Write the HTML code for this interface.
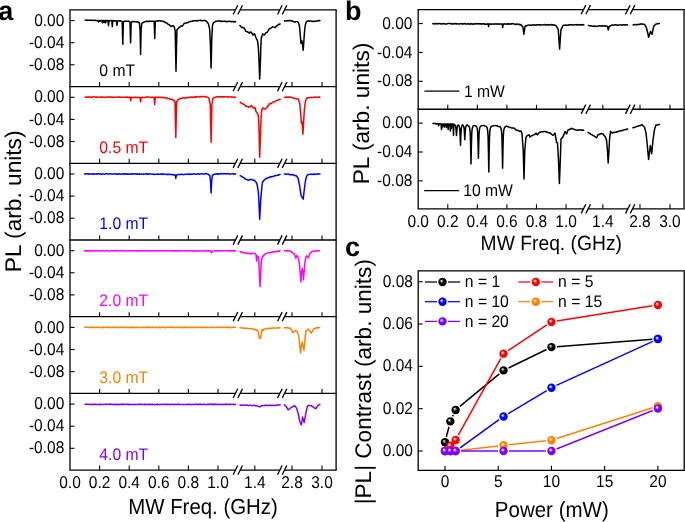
<!DOCTYPE html>
<html><head><meta charset="utf-8"><title>figure</title>
<style>html,body{margin:0;padding:0;background:#fff;}body{width:685px;height:522px;overflow:hidden;}
svg{display:block;will-change:transform;font-family:"Liberation Sans", sans-serif;}</style></head>
<body><svg width="685" height="522" viewBox="0 0 685 522" font-family='"Liberation Sans", sans-serif' text-rendering="geometricPrecision"><defs><radialGradient id="gk" cx="0.5" cy="0.5" r="0.55" fx="0.36" fy="0.34"><stop offset="0" stop-color="#ffffff"/><stop offset="0.12" stop-color="#bdbdbd"/><stop offset="0.45" stop-color="#000000"/><stop offset="1" stop-color="#000000"/></radialGradient><radialGradient id="gr" cx="0.5" cy="0.5" r="0.55" fx="0.36" fy="0.34"><stop offset="0" stop-color="#ffffff"/><stop offset="0.12" stop-color="#ffd0d0"/><stop offset="0.45" stop-color="#ff0000"/><stop offset="1" stop-color="#ff0000"/></radialGradient><radialGradient id="gb" cx="0.5" cy="0.5" r="0.55" fx="0.36" fy="0.34"><stop offset="0" stop-color="#ffffff"/><stop offset="0.12" stop-color="#d0d0ff"/><stop offset="0.45" stop-color="#0000ff"/><stop offset="1" stop-color="#0000ff"/></radialGradient><radialGradient id="go" cx="0.5" cy="0.5" r="0.55" fx="0.36" fy="0.34"><stop offset="0" stop-color="#ffffff"/><stop offset="0.12" stop-color="#ffe0c0"/><stop offset="0.45" stop-color="#ff8000"/><stop offset="1" stop-color="#ff8000"/></radialGradient><radialGradient id="gp" cx="0.5" cy="0.5" r="0.55" fx="0.36" fy="0.34"><stop offset="0" stop-color="#ffffff"/><stop offset="0.12" stop-color="#e4ccff"/><stop offset="0.45" stop-color="#8000ff"/><stop offset="1" stop-color="#8000ff"/></radialGradient></defs><rect width="100%" height="100%" fill="#fff"/><line x1="70" y1="9.9" x2="70" y2="470.1" stroke="#000" stroke-width="1.3" stroke-linecap="butt"/>
<line x1="336.1" y1="9.9" x2="336.1" y2="470.1" stroke="#000" stroke-width="1.3" stroke-linecap="butt"/>
<line x1="69.35" y1="9.9" x2="336.75" y2="9.9" stroke="#000" stroke-width="1.3" stroke-linecap="butt"/>
<line x1="69.35" y1="86.6" x2="336.75" y2="86.6" stroke="#000" stroke-width="1.3" stroke-linecap="butt"/>
<line x1="69.35" y1="163.3" x2="336.75" y2="163.3" stroke="#000" stroke-width="1.3" stroke-linecap="butt"/>
<line x1="69.35" y1="240" x2="336.75" y2="240" stroke="#000" stroke-width="1.3" stroke-linecap="butt"/>
<line x1="69.35" y1="316.7" x2="336.75" y2="316.7" stroke="#000" stroke-width="1.3" stroke-linecap="butt"/>
<line x1="69.35" y1="393.4" x2="336.75" y2="393.4" stroke="#000" stroke-width="1.3" stroke-linecap="butt"/>
<line x1="69.35" y1="470.1" x2="336.75" y2="470.1" stroke="#000" stroke-width="1.3" stroke-linecap="butt"/>
<line x1="70" y1="20.6" x2="74.5" y2="20.6" stroke="#000" stroke-width="1.1" stroke-linecap="butt"/>
<text x="64.3" y="25.7" font-size="15.5" text-anchor="end" fill="#000" font-weight="normal" transform="matrix(1 0 0 1.1 0 -2.57)">0.00</text>
<line x1="70" y1="42.7" x2="74.5" y2="42.7" stroke="#000" stroke-width="1.1" stroke-linecap="butt"/>
<text x="64.3" y="47.8" font-size="15.5" text-anchor="end" fill="#000" font-weight="normal" transform="matrix(1 0 0 1.1 0 -4.78)">-0.04</text>
<line x1="70" y1="64.8" x2="74.5" y2="64.8" stroke="#000" stroke-width="1.1" stroke-linecap="butt"/>
<text x="64.3" y="69.9" font-size="15.5" text-anchor="end" fill="#000" font-weight="normal" transform="matrix(1 0 0 1.1 0 -6.99)">-0.08</text>
<line x1="99.6" y1="86.6" x2="99.6" y2="82.1" stroke="#000" stroke-width="1.1" stroke-linecap="butt"/>
<line x1="129.2" y1="86.6" x2="129.2" y2="82.1" stroke="#000" stroke-width="1.1" stroke-linecap="butt"/>
<line x1="158.8" y1="86.6" x2="158.8" y2="82.1" stroke="#000" stroke-width="1.1" stroke-linecap="butt"/>
<line x1="188.4" y1="86.6" x2="188.4" y2="82.1" stroke="#000" stroke-width="1.1" stroke-linecap="butt"/>
<line x1="218" y1="86.6" x2="218" y2="82.1" stroke="#000" stroke-width="1.1" stroke-linecap="butt"/>
<line x1="254.8" y1="86.6" x2="254.8" y2="82.1" stroke="#000" stroke-width="1.1" stroke-linecap="butt"/>
<line x1="292" y1="86.6" x2="292" y2="82.1" stroke="#000" stroke-width="1.1" stroke-linecap="butt"/>
<line x1="322" y1="86.6" x2="322" y2="82.1" stroke="#000" stroke-width="1.1" stroke-linecap="butt"/>
<line x1="70" y1="97.3" x2="74.5" y2="97.3" stroke="#000" stroke-width="1.1" stroke-linecap="butt"/>
<text x="64.3" y="102.4" font-size="15.5" text-anchor="end" fill="#000" font-weight="normal" transform="matrix(1 0 0 1.1 0 -10.24)">0.00</text>
<line x1="70" y1="119.4" x2="74.5" y2="119.4" stroke="#000" stroke-width="1.1" stroke-linecap="butt"/>
<text x="64.3" y="124.5" font-size="15.5" text-anchor="end" fill="#000" font-weight="normal" transform="matrix(1 0 0 1.1 0 -12.45)">-0.04</text>
<line x1="70" y1="141.5" x2="74.5" y2="141.5" stroke="#000" stroke-width="1.1" stroke-linecap="butt"/>
<text x="64.3" y="146.6" font-size="15.5" text-anchor="end" fill="#000" font-weight="normal" transform="matrix(1 0 0 1.1 0 -14.66)">-0.08</text>
<line x1="99.6" y1="163.3" x2="99.6" y2="158.8" stroke="#000" stroke-width="1.1" stroke-linecap="butt"/>
<line x1="129.2" y1="163.3" x2="129.2" y2="158.8" stroke="#000" stroke-width="1.1" stroke-linecap="butt"/>
<line x1="158.8" y1="163.3" x2="158.8" y2="158.8" stroke="#000" stroke-width="1.1" stroke-linecap="butt"/>
<line x1="188.4" y1="163.3" x2="188.4" y2="158.8" stroke="#000" stroke-width="1.1" stroke-linecap="butt"/>
<line x1="218" y1="163.3" x2="218" y2="158.8" stroke="#000" stroke-width="1.1" stroke-linecap="butt"/>
<line x1="254.8" y1="163.3" x2="254.8" y2="158.8" stroke="#000" stroke-width="1.1" stroke-linecap="butt"/>
<line x1="292" y1="163.3" x2="292" y2="158.8" stroke="#000" stroke-width="1.1" stroke-linecap="butt"/>
<line x1="322" y1="163.3" x2="322" y2="158.8" stroke="#000" stroke-width="1.1" stroke-linecap="butt"/>
<line x1="70" y1="174" x2="74.5" y2="174" stroke="#000" stroke-width="1.1" stroke-linecap="butt"/>
<text x="64.3" y="179.1" font-size="15.5" text-anchor="end" fill="#000" font-weight="normal" transform="matrix(1 0 0 1.1 0 -17.91)">0.00</text>
<line x1="70" y1="196.1" x2="74.5" y2="196.1" stroke="#000" stroke-width="1.1" stroke-linecap="butt"/>
<text x="64.3" y="201.2" font-size="15.5" text-anchor="end" fill="#000" font-weight="normal" transform="matrix(1 0 0 1.1 0 -20.12)">-0.04</text>
<line x1="70" y1="218.2" x2="74.5" y2="218.2" stroke="#000" stroke-width="1.1" stroke-linecap="butt"/>
<text x="64.3" y="223.3" font-size="15.5" text-anchor="end" fill="#000" font-weight="normal" transform="matrix(1 0 0 1.1 0 -22.33)">-0.08</text>
<line x1="99.6" y1="240" x2="99.6" y2="235.5" stroke="#000" stroke-width="1.1" stroke-linecap="butt"/>
<line x1="129.2" y1="240" x2="129.2" y2="235.5" stroke="#000" stroke-width="1.1" stroke-linecap="butt"/>
<line x1="158.8" y1="240" x2="158.8" y2="235.5" stroke="#000" stroke-width="1.1" stroke-linecap="butt"/>
<line x1="188.4" y1="240" x2="188.4" y2="235.5" stroke="#000" stroke-width="1.1" stroke-linecap="butt"/>
<line x1="218" y1="240" x2="218" y2="235.5" stroke="#000" stroke-width="1.1" stroke-linecap="butt"/>
<line x1="254.8" y1="240" x2="254.8" y2="235.5" stroke="#000" stroke-width="1.1" stroke-linecap="butt"/>
<line x1="292" y1="240" x2="292" y2="235.5" stroke="#000" stroke-width="1.1" stroke-linecap="butt"/>
<line x1="322" y1="240" x2="322" y2="235.5" stroke="#000" stroke-width="1.1" stroke-linecap="butt"/>
<line x1="70" y1="250.7" x2="74.5" y2="250.7" stroke="#000" stroke-width="1.1" stroke-linecap="butt"/>
<text x="64.3" y="255.8" font-size="15.5" text-anchor="end" fill="#000" font-weight="normal" transform="matrix(1 0 0 1.1 0 -25.58)">0.00</text>
<line x1="70" y1="272.8" x2="74.5" y2="272.8" stroke="#000" stroke-width="1.1" stroke-linecap="butt"/>
<text x="64.3" y="277.9" font-size="15.5" text-anchor="end" fill="#000" font-weight="normal" transform="matrix(1 0 0 1.1 0 -27.79)">-0.04</text>
<line x1="70" y1="294.9" x2="74.5" y2="294.9" stroke="#000" stroke-width="1.1" stroke-linecap="butt"/>
<text x="64.3" y="300" font-size="15.5" text-anchor="end" fill="#000" font-weight="normal" transform="matrix(1 0 0 1.1 0 -30)">-0.08</text>
<line x1="99.6" y1="316.7" x2="99.6" y2="312.2" stroke="#000" stroke-width="1.1" stroke-linecap="butt"/>
<line x1="129.2" y1="316.7" x2="129.2" y2="312.2" stroke="#000" stroke-width="1.1" stroke-linecap="butt"/>
<line x1="158.8" y1="316.7" x2="158.8" y2="312.2" stroke="#000" stroke-width="1.1" stroke-linecap="butt"/>
<line x1="188.4" y1="316.7" x2="188.4" y2="312.2" stroke="#000" stroke-width="1.1" stroke-linecap="butt"/>
<line x1="218" y1="316.7" x2="218" y2="312.2" stroke="#000" stroke-width="1.1" stroke-linecap="butt"/>
<line x1="254.8" y1="316.7" x2="254.8" y2="312.2" stroke="#000" stroke-width="1.1" stroke-linecap="butt"/>
<line x1="292" y1="316.7" x2="292" y2="312.2" stroke="#000" stroke-width="1.1" stroke-linecap="butt"/>
<line x1="322" y1="316.7" x2="322" y2="312.2" stroke="#000" stroke-width="1.1" stroke-linecap="butt"/>
<line x1="70" y1="327.4" x2="74.5" y2="327.4" stroke="#000" stroke-width="1.1" stroke-linecap="butt"/>
<text x="64.3" y="332.5" font-size="15.5" text-anchor="end" fill="#000" font-weight="normal" transform="matrix(1 0 0 1.1 0 -33.25)">0.00</text>
<line x1="70" y1="349.5" x2="74.5" y2="349.5" stroke="#000" stroke-width="1.1" stroke-linecap="butt"/>
<text x="64.3" y="354.6" font-size="15.5" text-anchor="end" fill="#000" font-weight="normal" transform="matrix(1 0 0 1.1 0 -35.46)">-0.04</text>
<line x1="70" y1="371.6" x2="74.5" y2="371.6" stroke="#000" stroke-width="1.1" stroke-linecap="butt"/>
<text x="64.3" y="376.7" font-size="15.5" text-anchor="end" fill="#000" font-weight="normal" transform="matrix(1 0 0 1.1 0 -37.67)">-0.08</text>
<line x1="99.6" y1="393.4" x2="99.6" y2="388.9" stroke="#000" stroke-width="1.1" stroke-linecap="butt"/>
<line x1="129.2" y1="393.4" x2="129.2" y2="388.9" stroke="#000" stroke-width="1.1" stroke-linecap="butt"/>
<line x1="158.8" y1="393.4" x2="158.8" y2="388.9" stroke="#000" stroke-width="1.1" stroke-linecap="butt"/>
<line x1="188.4" y1="393.4" x2="188.4" y2="388.9" stroke="#000" stroke-width="1.1" stroke-linecap="butt"/>
<line x1="218" y1="393.4" x2="218" y2="388.9" stroke="#000" stroke-width="1.1" stroke-linecap="butt"/>
<line x1="254.8" y1="393.4" x2="254.8" y2="388.9" stroke="#000" stroke-width="1.1" stroke-linecap="butt"/>
<line x1="292" y1="393.4" x2="292" y2="388.9" stroke="#000" stroke-width="1.1" stroke-linecap="butt"/>
<line x1="322" y1="393.4" x2="322" y2="388.9" stroke="#000" stroke-width="1.1" stroke-linecap="butt"/>
<line x1="70" y1="404.1" x2="74.5" y2="404.1" stroke="#000" stroke-width="1.1" stroke-linecap="butt"/>
<text x="64.3" y="409.2" font-size="15.5" text-anchor="end" fill="#000" font-weight="normal" transform="matrix(1 0 0 1.1 0 -40.92)">0.00</text>
<line x1="70" y1="426.2" x2="74.5" y2="426.2" stroke="#000" stroke-width="1.1" stroke-linecap="butt"/>
<text x="64.3" y="431.3" font-size="15.5" text-anchor="end" fill="#000" font-weight="normal" transform="matrix(1 0 0 1.1 0 -43.13)">-0.04</text>
<line x1="70" y1="448.3" x2="74.5" y2="448.3" stroke="#000" stroke-width="1.1" stroke-linecap="butt"/>
<text x="64.3" y="453.4" font-size="15.5" text-anchor="end" fill="#000" font-weight="normal" transform="matrix(1 0 0 1.1 0 -45.34)">-0.08</text>
<line x1="99.6" y1="470.1" x2="99.6" y2="465.6" stroke="#000" stroke-width="1.1" stroke-linecap="butt"/>
<line x1="129.2" y1="470.1" x2="129.2" y2="465.6" stroke="#000" stroke-width="1.1" stroke-linecap="butt"/>
<line x1="158.8" y1="470.1" x2="158.8" y2="465.6" stroke="#000" stroke-width="1.1" stroke-linecap="butt"/>
<line x1="188.4" y1="470.1" x2="188.4" y2="465.6" stroke="#000" stroke-width="1.1" stroke-linecap="butt"/>
<line x1="218" y1="470.1" x2="218" y2="465.6" stroke="#000" stroke-width="1.1" stroke-linecap="butt"/>
<line x1="254.8" y1="470.1" x2="254.8" y2="465.6" stroke="#000" stroke-width="1.1" stroke-linecap="butt"/>
<line x1="292" y1="470.1" x2="292" y2="465.6" stroke="#000" stroke-width="1.1" stroke-linecap="butt"/>
<line x1="322" y1="470.1" x2="322" y2="465.6" stroke="#000" stroke-width="1.1" stroke-linecap="butt"/>
<polygon points="234.88,11.05 236.03,8.75 240.72,8.75 239.58,11.05" fill="#fff"/>
<line x1="233.15" y1="14.5" x2="237.75" y2="5.3" stroke="#000" stroke-width="1.3" stroke-linecap="butt"/>
<line x1="237.85" y1="14.5" x2="242.45" y2="5.3" stroke="#000" stroke-width="1.3" stroke-linecap="butt"/>
<polygon points="279.27,11.05 280.42,8.75 285.12,8.75 283.98,11.05" fill="#fff"/>
<line x1="277.55" y1="14.5" x2="282.15" y2="5.3" stroke="#000" stroke-width="1.3" stroke-linecap="butt"/>
<line x1="282.25" y1="14.5" x2="286.85" y2="5.3" stroke="#000" stroke-width="1.3" stroke-linecap="butt"/>
<polygon points="234.88,87.75 236.03,85.45 240.72,85.45 239.58,87.75" fill="#fff"/>
<line x1="233.15" y1="91.2" x2="237.75" y2="82" stroke="#000" stroke-width="1.3" stroke-linecap="butt"/>
<line x1="237.85" y1="91.2" x2="242.45" y2="82" stroke="#000" stroke-width="1.3" stroke-linecap="butt"/>
<polygon points="279.27,87.75 280.42,85.45 285.12,85.45 283.98,87.75" fill="#fff"/>
<line x1="277.55" y1="91.2" x2="282.15" y2="82" stroke="#000" stroke-width="1.3" stroke-linecap="butt"/>
<line x1="282.25" y1="91.2" x2="286.85" y2="82" stroke="#000" stroke-width="1.3" stroke-linecap="butt"/>
<polygon points="234.88,164.45 236.03,162.15 240.72,162.15 239.58,164.45" fill="#fff"/>
<line x1="233.15" y1="167.9" x2="237.75" y2="158.7" stroke="#000" stroke-width="1.3" stroke-linecap="butt"/>
<line x1="237.85" y1="167.9" x2="242.45" y2="158.7" stroke="#000" stroke-width="1.3" stroke-linecap="butt"/>
<polygon points="279.27,164.45 280.42,162.15 285.12,162.15 283.98,164.45" fill="#fff"/>
<line x1="277.55" y1="167.9" x2="282.15" y2="158.7" stroke="#000" stroke-width="1.3" stroke-linecap="butt"/>
<line x1="282.25" y1="167.9" x2="286.85" y2="158.7" stroke="#000" stroke-width="1.3" stroke-linecap="butt"/>
<polygon points="234.88,241.15 236.03,238.85 240.72,238.85 239.58,241.15" fill="#fff"/>
<line x1="233.15" y1="244.6" x2="237.75" y2="235.4" stroke="#000" stroke-width="1.3" stroke-linecap="butt"/>
<line x1="237.85" y1="244.6" x2="242.45" y2="235.4" stroke="#000" stroke-width="1.3" stroke-linecap="butt"/>
<polygon points="279.27,241.15 280.42,238.85 285.12,238.85 283.98,241.15" fill="#fff"/>
<line x1="277.55" y1="244.6" x2="282.15" y2="235.4" stroke="#000" stroke-width="1.3" stroke-linecap="butt"/>
<line x1="282.25" y1="244.6" x2="286.85" y2="235.4" stroke="#000" stroke-width="1.3" stroke-linecap="butt"/>
<polygon points="234.88,317.85 236.03,315.55 240.72,315.55 239.58,317.85" fill="#fff"/>
<line x1="233.15" y1="321.3" x2="237.75" y2="312.1" stroke="#000" stroke-width="1.3" stroke-linecap="butt"/>
<line x1="237.85" y1="321.3" x2="242.45" y2="312.1" stroke="#000" stroke-width="1.3" stroke-linecap="butt"/>
<polygon points="279.27,317.85 280.42,315.55 285.12,315.55 283.98,317.85" fill="#fff"/>
<line x1="277.55" y1="321.3" x2="282.15" y2="312.1" stroke="#000" stroke-width="1.3" stroke-linecap="butt"/>
<line x1="282.25" y1="321.3" x2="286.85" y2="312.1" stroke="#000" stroke-width="1.3" stroke-linecap="butt"/>
<polygon points="234.88,394.55 236.03,392.25 240.72,392.25 239.58,394.55" fill="#fff"/>
<line x1="233.15" y1="398" x2="237.75" y2="388.8" stroke="#000" stroke-width="1.3" stroke-linecap="butt"/>
<line x1="237.85" y1="398" x2="242.45" y2="388.8" stroke="#000" stroke-width="1.3" stroke-linecap="butt"/>
<polygon points="279.27,394.55 280.42,392.25 285.12,392.25 283.98,394.55" fill="#fff"/>
<line x1="277.55" y1="398" x2="282.15" y2="388.8" stroke="#000" stroke-width="1.3" stroke-linecap="butt"/>
<line x1="282.25" y1="398" x2="286.85" y2="388.8" stroke="#000" stroke-width="1.3" stroke-linecap="butt"/>
<polygon points="234.88,471.25 236.03,468.95 240.72,468.95 239.58,471.25" fill="#fff"/>
<line x1="233.15" y1="474.7" x2="237.75" y2="465.5" stroke="#000" stroke-width="1.3" stroke-linecap="butt"/>
<line x1="237.85" y1="474.7" x2="242.45" y2="465.5" stroke="#000" stroke-width="1.3" stroke-linecap="butt"/>
<polygon points="279.27,471.25 280.42,468.95 285.12,468.95 283.98,471.25" fill="#fff"/>
<line x1="277.55" y1="474.7" x2="282.15" y2="465.5" stroke="#000" stroke-width="1.3" stroke-linecap="butt"/>
<line x1="282.25" y1="474.7" x2="286.85" y2="465.5" stroke="#000" stroke-width="1.3" stroke-linecap="butt"/>
<text x="70" y="487.6" font-size="15.5" text-anchor="middle" fill="#000" font-weight="normal" transform="matrix(1 0 0 1.1 0 -48.76)">0.0</text>
<text x="99.6" y="487.6" font-size="15.5" text-anchor="middle" fill="#000" font-weight="normal" transform="matrix(1 0 0 1.1 0 -48.76)">0.2</text>
<text x="129.2" y="487.6" font-size="15.5" text-anchor="middle" fill="#000" font-weight="normal" transform="matrix(1 0 0 1.1 0 -48.76)">0.4</text>
<text x="158.8" y="487.6" font-size="15.5" text-anchor="middle" fill="#000" font-weight="normal" transform="matrix(1 0 0 1.1 0 -48.76)">0.6</text>
<text x="188.4" y="487.6" font-size="15.5" text-anchor="middle" fill="#000" font-weight="normal" transform="matrix(1 0 0 1.1 0 -48.76)">0.8</text>
<text x="218" y="487.6" font-size="15.5" text-anchor="middle" fill="#000" font-weight="normal" transform="matrix(1 0 0 1.1 0 -48.76)">1.0</text>
<text x="254.8" y="487.6" font-size="15.5" text-anchor="middle" fill="#000" font-weight="normal" transform="matrix(1 0 0 1.1 0 -48.76)">1.4</text>
<text x="292" y="487.6" font-size="15.5" text-anchor="middle" fill="#000" font-weight="normal" transform="matrix(1 0 0 1.1 0 -48.76)">2.8</text>
<text x="322" y="487.6" font-size="15.5" text-anchor="middle" fill="#000" font-weight="normal" transform="matrix(1 0 0 1.1 0 -48.76)">3.0</text>
<line x1="418.2" y1="9.7" x2="418.2" y2="208.8" stroke="#000" stroke-width="1.3" stroke-linecap="butt"/>
<line x1="684.03" y1="9.7" x2="684.03" y2="208.8" stroke="#000" stroke-width="1.3" stroke-linecap="butt"/>
<line x1="417.55" y1="9.7" x2="684.68" y2="9.7" stroke="#000" stroke-width="1.3" stroke-linecap="butt"/>
<line x1="417.55" y1="109.25" x2="684.68" y2="109.25" stroke="#000" stroke-width="1.3" stroke-linecap="butt"/>
<line x1="417.55" y1="208.8" x2="684.68" y2="208.8" stroke="#000" stroke-width="1.3" stroke-linecap="butt"/>
<line x1="418.2" y1="23.55" x2="422.7" y2="23.55" stroke="#000" stroke-width="1.1" stroke-linecap="butt"/>
<text x="412.4" y="28.65" font-size="15.5" text-anchor="end" fill="#000" font-weight="normal" transform="matrix(1 0 0 1.1 0 -2.87)">0.00</text>
<line x1="418.2" y1="52.45" x2="422.7" y2="52.45" stroke="#000" stroke-width="1.1" stroke-linecap="butt"/>
<text x="412.4" y="57.55" font-size="15.5" text-anchor="end" fill="#000" font-weight="normal" transform="matrix(1 0 0 1.1 0 -5.76)">-0.04</text>
<line x1="418.2" y1="81.3" x2="422.7" y2="81.3" stroke="#000" stroke-width="1.1" stroke-linecap="butt"/>
<text x="412.4" y="86.4" font-size="15.5" text-anchor="end" fill="#000" font-weight="normal" transform="matrix(1 0 0 1.1 0 -8.64)">-0.08</text>
<line x1="447.77" y1="109.25" x2="447.77" y2="104.75" stroke="#000" stroke-width="1.1" stroke-linecap="butt"/>
<line x1="477.34" y1="109.25" x2="477.34" y2="104.75" stroke="#000" stroke-width="1.1" stroke-linecap="butt"/>
<line x1="506.91" y1="109.25" x2="506.91" y2="104.75" stroke="#000" stroke-width="1.1" stroke-linecap="butt"/>
<line x1="536.48" y1="109.25" x2="536.48" y2="104.75" stroke="#000" stroke-width="1.1" stroke-linecap="butt"/>
<line x1="566.05" y1="109.25" x2="566.05" y2="104.75" stroke="#000" stroke-width="1.1" stroke-linecap="butt"/>
<line x1="602.82" y1="109.25" x2="602.82" y2="104.75" stroke="#000" stroke-width="1.1" stroke-linecap="butt"/>
<line x1="639.98" y1="109.25" x2="639.98" y2="104.75" stroke="#000" stroke-width="1.1" stroke-linecap="butt"/>
<line x1="669.95" y1="109.25" x2="669.95" y2="104.75" stroke="#000" stroke-width="1.1" stroke-linecap="butt"/>
<line x1="418.2" y1="123.1" x2="422.7" y2="123.1" stroke="#000" stroke-width="1.1" stroke-linecap="butt"/>
<text x="412.4" y="128.2" font-size="15.5" text-anchor="end" fill="#000" font-weight="normal" transform="matrix(1 0 0 1.1 0 -12.82)">0.00</text>
<line x1="418.2" y1="152" x2="422.7" y2="152" stroke="#000" stroke-width="1.1" stroke-linecap="butt"/>
<text x="412.4" y="157.1" font-size="15.5" text-anchor="end" fill="#000" font-weight="normal" transform="matrix(1 0 0 1.1 0 -15.71)">-0.04</text>
<line x1="418.2" y1="180.85" x2="422.7" y2="180.85" stroke="#000" stroke-width="1.1" stroke-linecap="butt"/>
<text x="412.4" y="185.95" font-size="15.5" text-anchor="end" fill="#000" font-weight="normal" transform="matrix(1 0 0 1.1 0 -18.6)">-0.08</text>
<line x1="447.77" y1="208.8" x2="447.77" y2="204.3" stroke="#000" stroke-width="1.1" stroke-linecap="butt"/>
<line x1="477.34" y1="208.8" x2="477.34" y2="204.3" stroke="#000" stroke-width="1.1" stroke-linecap="butt"/>
<line x1="506.91" y1="208.8" x2="506.91" y2="204.3" stroke="#000" stroke-width="1.1" stroke-linecap="butt"/>
<line x1="536.48" y1="208.8" x2="536.48" y2="204.3" stroke="#000" stroke-width="1.1" stroke-linecap="butt"/>
<line x1="566.05" y1="208.8" x2="566.05" y2="204.3" stroke="#000" stroke-width="1.1" stroke-linecap="butt"/>
<line x1="602.82" y1="208.8" x2="602.82" y2="204.3" stroke="#000" stroke-width="1.1" stroke-linecap="butt"/>
<line x1="639.98" y1="208.8" x2="639.98" y2="204.3" stroke="#000" stroke-width="1.1" stroke-linecap="butt"/>
<line x1="669.95" y1="208.8" x2="669.95" y2="204.3" stroke="#000" stroke-width="1.1" stroke-linecap="butt"/>
<polygon points="582.91,10.85 584.06,8.55 588.76,8.55 587.61,10.85" fill="#fff"/>
<line x1="581.18" y1="14.3" x2="585.78" y2="5.1" stroke="#000" stroke-width="1.3" stroke-linecap="butt"/>
<line x1="585.88" y1="14.3" x2="590.48" y2="5.1" stroke="#000" stroke-width="1.3" stroke-linecap="butt"/>
<polygon points="627.26,10.85 628.41,8.55 633.11,8.55 631.96,10.85" fill="#fff"/>
<line x1="625.54" y1="14.3" x2="630.14" y2="5.1" stroke="#000" stroke-width="1.3" stroke-linecap="butt"/>
<line x1="630.24" y1="14.3" x2="634.84" y2="5.1" stroke="#000" stroke-width="1.3" stroke-linecap="butt"/>
<polygon points="582.91,110.4 584.06,108.1 588.76,108.1 587.61,110.4" fill="#fff"/>
<line x1="581.18" y1="113.85" x2="585.78" y2="104.65" stroke="#000" stroke-width="1.3" stroke-linecap="butt"/>
<line x1="585.88" y1="113.85" x2="590.48" y2="104.65" stroke="#000" stroke-width="1.3" stroke-linecap="butt"/>
<polygon points="627.26,110.4 628.41,108.1 633.11,108.1 631.96,110.4" fill="#fff"/>
<line x1="625.54" y1="113.85" x2="630.14" y2="104.65" stroke="#000" stroke-width="1.3" stroke-linecap="butt"/>
<line x1="630.24" y1="113.85" x2="634.84" y2="104.65" stroke="#000" stroke-width="1.3" stroke-linecap="butt"/>
<polygon points="582.91,209.95 584.06,207.65 588.76,207.65 587.61,209.95" fill="#fff"/>
<line x1="581.18" y1="213.4" x2="585.78" y2="204.2" stroke="#000" stroke-width="1.3" stroke-linecap="butt"/>
<line x1="585.88" y1="213.4" x2="590.48" y2="204.2" stroke="#000" stroke-width="1.3" stroke-linecap="butt"/>
<polygon points="627.26,209.95 628.41,207.65 633.11,207.65 631.96,209.95" fill="#fff"/>
<line x1="625.54" y1="213.4" x2="630.14" y2="204.2" stroke="#000" stroke-width="1.3" stroke-linecap="butt"/>
<line x1="630.24" y1="213.4" x2="634.84" y2="204.2" stroke="#000" stroke-width="1.3" stroke-linecap="butt"/>
<text x="418.2" y="226.6" font-size="15.5" text-anchor="middle" fill="#000" font-weight="normal" transform="matrix(1 0 0 1.1 0 -22.66)">0.0</text>
<text x="447.77" y="226.6" font-size="15.5" text-anchor="middle" fill="#000" font-weight="normal" transform="matrix(1 0 0 1.1 0 -22.66)">0.2</text>
<text x="477.34" y="226.6" font-size="15.5" text-anchor="middle" fill="#000" font-weight="normal" transform="matrix(1 0 0 1.1 0 -22.66)">0.4</text>
<text x="506.91" y="226.6" font-size="15.5" text-anchor="middle" fill="#000" font-weight="normal" transform="matrix(1 0 0 1.1 0 -22.66)">0.6</text>
<text x="536.48" y="226.6" font-size="15.5" text-anchor="middle" fill="#000" font-weight="normal" transform="matrix(1 0 0 1.1 0 -22.66)">0.8</text>
<text x="566.05" y="226.6" font-size="15.5" text-anchor="middle" fill="#000" font-weight="normal" transform="matrix(1 0 0 1.1 0 -22.66)">1.0</text>
<text x="602.82" y="226.6" font-size="15.5" text-anchor="middle" fill="#000" font-weight="normal" transform="matrix(1 0 0 1.1 0 -22.66)">1.4</text>
<text x="639.98" y="226.6" font-size="15.5" text-anchor="middle" fill="#000" font-weight="normal" transform="matrix(1 0 0 1.1 0 -22.66)">2.8</text>
<text x="669.95" y="226.6" font-size="15.5" text-anchor="middle" fill="#000" font-weight="normal" transform="matrix(1 0 0 1.1 0 -22.66)">3.0</text>
<polyline points="85.2,20.3 85.82,20.2 86.44,20.11 87.05,20.42 87.67,20.08 88.29,20.37 88.91,20.27 89.53,20.1 90.15,20.38 90.76,20.1 91.38,20.35 92,20.4 92.61,20.15 93.22,20.17 93.83,20.38 94.44,20.64 95.05,20.22 95.66,20.29 96.27,20.55 96.88,20.75 97.49,20.54 98.1,20.5 98.15,20.5 98.6,21.9 99.05,20.5 99.65,20.6 100.1,21.5 100.55,20.6 101.25,20.54 101.95,20.6 102.4,22.8 102.85,20.6 103.65,20.6 104.1,22.5 104.55,20.6 105.15,20.6 105.6,22.8 106.05,20.6 106.72,20.92 107.38,20.39 108.05,20.7 108.5,25.7 108.95,20.7 109.67,20.94 110.4,20.62 111.12,20.56 111.85,20.8 112.3,26.6 112.75,20.8 113.38,20.59 114.02,20.72 114.65,21.04 115.28,20.68 115.92,20.93 116.55,20.9 117,25.4 117.45,20.9 118.16,21 118.87,20.86 119.58,20.99 120.29,20.72 121,21 121.6,21.14 122.2,21.8 122.8,44.2 123.4,21.8 124.5,21.2 125.14,21.04 125.79,21.34 126.43,21.2 127.07,21.15 127.71,21.32 128.36,21.26 129,21.3 130,22.3 130.6,42.8 131.2,22.3 131.85,21.78 132.5,21.5 133.14,21.71 133.79,21.68 134.43,21.43 135.07,21.66 135.71,21.66 136.36,21.9 137,21.7 137.6,22.06 138.2,22.02 138.8,22.66 139.4,22.6 140.1,30 140.6,54.6 141.1,30 141.8,23.5 142.53,22.77 143.27,22.45 144,22 144.67,22.02 145.33,21.52 146,21.59 146.67,21.19 147.33,21.43 148,21.2 148.62,21.36 149.24,21.24 149.86,21.43 150.48,21.09 151.1,21.32 151.72,21.26 152.34,21.25 152.96,21.17 153.58,21.4 154.2,21.2 154.75,38.4 155.3,21.2 155.97,21.4 156.64,21.04 157.31,21.08 157.99,20.65 158.66,20.96 159.33,20.86 160,20.7 160.6,21.12 161.2,21.13 161.8,20.93 162.4,21.11 163,21.3 163.6,21.7 164.2,21.61 164.8,22.18 165.4,22.3 166,22.8 166.6,22.97 167.2,23.34 167.8,24.16 168.4,24.18 169,24.8 169.62,25.07 170.25,25.58 170.88,26.3 171.5,26.5 172.25,25.8 173,25.6 173.65,26.32 174.3,27.1 175.2,31.1 176,71.3 176.9,29.9 178,28.8 178.75,27.98 179.5,27.1 180.25,26.73 181,25.9 182,26.2 182.67,25.52 183.33,24.69 184,23.6 184.67,23.27 185.33,23.15 186,23 186.67,22.7 187.33,22.8 188,22.62 188.67,21.92 189.33,21.72 190,21.7 190.62,21.43 191.25,21.32 191.88,21.35 192.5,21.3 193.12,21 193.75,20.73 194.38,20.86 195,20.8 195.62,20.67 196.25,20.74 196.88,20.92 197.5,20.71 198.12,20.56 198.75,20.57 199.38,20.56 200,20.4 200.62,20.14 201.25,20.66 201.88,20.61 202.5,20.67 203.12,20.64 203.75,20.41 204.38,20.43 205,20.5 205.67,20.73 206.33,21.51 207,21.9 207.75,22.79 208.5,24.2 209.6,28.8 210.4,43.7 211.1,67.9 211.8,38 212.5,25.3 213.5,22.8 214.12,22.17 214.75,21.88 215.38,21.47 216,21.3 216.67,21.2 217.33,21.03 218,21 218.67,21.09 219.33,21.06 220,21.3 220.62,21.23 221.23,21.05 221.85,21.57 222.46,21.43 223.08,21.17 223.69,21.24 224.31,21.32 224.92,21.34 225.54,21.21 226.15,21.66 226.77,21.77 227.38,21.46 228,21.5 228.63,21.52 229.27,21.3 229.9,21.34 230.53,21.51 231.17,21.48 231.8,21.85 232.43,21.47 233.07,21.41 233.7,22 234.33,21.77 234.97,21.56 235.6,21.8" fill="none" stroke="#000" stroke-width="1.5" stroke-linejoin="round" stroke-linecap="round"/>
<polyline points="239.9,25.5 240.8,26.4 241.45,27.08 242.1,27.7 242.8,27.37 243.5,27.6 244.2,28 245,29.6 245.7,31.2 246.45,31.42 247.2,31.6 247.85,32.19 248.5,32.2 249.3,33.2 250.5,31.9 251.3,32.2 252.3,33.8 253,35.1 254,33.8 254.8,34.1 255.6,36.7 256.5,38.9 257.5,40.6 258.3,47 259,60 259.7,79 260.4,62 260.9,45 261.3,38 262,35.9 262.7,33.8 263.5,34.67 264.3,35.1 264.95,34.27 265.6,33.2 266.4,32.56 267.2,32.2 268.2,30.6 269.1,29 269.95,28.57 270.8,28.3 271.43,27.57 272.07,27.4 272.7,26.7 273.35,26.92 274,27.1 274.65,27.42 275.3,27.4 276.5,26.1 277.3,25.35 278.1,24.8 278.77,24.33 279.43,24.39 280.1,23.9" fill="none" stroke="#000" stroke-width="1.5" stroke-linejoin="round" stroke-linecap="round"/>
<polyline points="284.4,20.7 285.02,20.99 285.64,20.91 286.27,20.88 286.89,20.89 287.51,20.84 288.13,20.54 288.76,20.71 289.38,20.61 290,20.7 290.6,20.54 291.2,20.66 291.8,20.93 292.4,21.04 293,21.3 293.75,21.82 294.5,22.1 295.25,22.07 296,21.5 296.75,21.62 297.5,21.8 298.5,22.7 299.5,26.5 300.2,34.2 301,43.4 301.8,40.7 302.5,44.1 303.2,50.2 303.8,41.8 304.5,31.9 305.3,25 306.5,21.5 307.25,21.36 308,20.7 308.67,21.09 309.33,21.17 310,21 310.6,21.02 311.2,21.03 311.8,21.14 312.4,21.22 313,21.5 313.6,21.22 314.2,21.37 314.8,21.44 315.4,21.3 316,21 316.67,20.9 317.33,20.93 318,20.93 318.67,20.42 319.33,20.68 320,20.5" fill="none" stroke="#000" stroke-width="1.5" stroke-linejoin="round" stroke-linecap="round"/>
<polyline points="85.1,97 85.72,97.25 86.34,97.18 86.96,97.16 87.58,97 88.2,96.83 88.82,97.2 89.45,96.93 90.07,97.21 90.69,97.32 91.31,96.98 91.93,96.99 92.55,97.32 93.17,97.19 93.79,96.86 94.41,96.84 95.03,96.86 95.65,97.31 96.28,97.26 96.9,96.87 97.52,97.28 98.14,97.38 98.76,97.19 99.38,97.01 100,97.1 100.61,97.13 101.21,96.88 101.82,96.82 102.42,97.39 103.03,97.2 103.64,97.13 104.24,97.38 104.85,97.08 105.45,97.35 106.06,97.33 106.67,96.96 107.27,96.99 107.88,97.02 108.48,96.99 109.09,97.2 109.7,97 110.3,97.1 110.91,96.93 111.52,97.4 112.12,97.07 112.73,97.14 113.33,97.22 113.94,97.41 114.55,97.13 115.15,97.43 115.76,97.18 116.36,97.2 116.97,97.2 117.58,96.9 118.18,97.15 118.79,97 119.39,96.9 120,97.2 120.64,97.39 121.28,97.02 121.91,97.2 122.55,97.36 123.19,97.27 123.82,97.13 124.46,97.25 125.1,97.28 125.74,97.43 126.38,97.03 127.01,97.3 127.65,97.12 128.29,97.15 128.92,97.45 129.56,97.3 130.2,97.3 130.7,100.7 131.2,97.3 131.84,97.34 132.47,97.47 133.11,97.57 133.74,97.29 134.38,97.4 135.01,97.35 135.65,97.36 136.29,97.47 136.92,97.34 137.56,97.39 138.19,97.37 138.83,97.65 139.46,97.51 140.1,97.4 140.6,101.8 141.1,97.4 141.74,97.61 142.37,97.64 143.01,97.21 143.64,97.38 144.28,97.59 144.91,97.52 145.55,97.08 146.19,97.06 146.82,97.24 147.46,97 148.09,97.09 148.73,96.97 149.36,97.32 150,97.2 150.68,97.39 151.37,97.47 152.05,97.04 152.73,97.4 153.42,97.38 154.1,97.3 154.7,104.4 155.3,97.3 155.97,97.07 156.64,97.5 157.31,97.54 157.99,97.07 158.66,97.5 159.33,97.15 160,97.2 160.62,97.27 161.25,97.64 161.88,97.62 162.5,97.3 163.12,97.53 163.75,97.66 164.38,97.63 165,97.8 165.62,97.77 166.25,97.99 166.88,98.38 167.5,98.11 168.12,98.58 168.75,98.66 169.38,98.56 170,99 170.63,99.08 171.27,99.44 171.9,99.56 172.53,99.47 173.17,100.21 173.8,100.1 175,102 175.8,137.6 176.6,102 177.3,100.92 178,99.5 178.67,99.57 179.33,98.83 180,98.71 180.67,98.36 181.33,98.58 182,98.2 182.6,97.99 183.2,97.84 183.8,97.94 184.4,98.17 185,98.04 185.6,97.64 186.2,97.5 186.8,97.89 187.4,97.61 188,97.5 188.64,97.57 189.27,97.16 189.91,97.1 190.55,97.43 191.18,97.23 191.82,96.97 192.45,97.44 193.09,97.22 193.73,97.27 194.36,96.8 195,97 195.62,97.19 196.25,96.69 196.88,97.14 197.5,96.87 198.12,96.78 198.75,96.88 199.38,97.08 200,96.66 200.62,96.55 201.25,96.77 201.88,96.57 202.5,96.47 203.12,96.47 203.75,96.38 204.38,96.45 205,96.6 205.62,96.64 206.25,96.78 206.88,97.21 207.5,97.2 208.25,97.72 209,98.5 209.65,101.75 210.3,105 211.1,142.3 211.9,105 212.8,99 213.5,98 214.12,97.75 214.75,97.31 215.38,97.16 216,97 216.6,96.69 217.2,96.81 217.8,96.65 218.4,97.06 219,96.93 219.6,96.69 220.2,96.84 220.8,97.1 221.4,96.58 222,96.99 222.6,96.74 223.2,96.76 223.8,96.94 224.4,96.66 225,96.7 225.62,96.75 226.25,96.89 226.87,97.11 227.49,96.77 228.12,97.11 228.74,97.07 229.36,97.07 229.99,96.97 230.61,96.98 231.24,96.84 231.86,96.93 232.48,96.94 233.11,97.38 233.73,97.13 234.35,97.12 234.98,97.11 235.6,97.4" fill="none" stroke="#ff0000" stroke-width="1.5" stroke-linejoin="round" stroke-linecap="round"/>
<polyline points="240.2,102.1 241.2,103.1 242,103.6 242.8,103.7 243.45,104.22 244.1,104.3 244.75,105.25 245.4,106 246.2,106.02 247,106.3 247.8,106.6 248.6,107.2 249.25,106.93 249.9,106.9 250.55,106.23 251.2,105.6 252.1,106.3 252.75,107.04 253.4,108.2 254.05,107.87 254.7,107.6 255.3,108.5 256,111.7 256.65,112.21 257.3,113 258.2,115.3 258.7,122 259.2,135 259.7,157.2 260.3,140 260.8,125 261.2,116 261.8,110.1 262.7,107.9 263.35,108.48 264,108.5 265,109.2 265.65,108.83 266.3,107.9 267.5,106.9 268.15,105.63 268.8,104.3 269.45,103.85 270.1,103.7 270.75,103.83 271.4,103.4 272.2,102.64 273,102.1 273.8,102.01 274.6,102.1 275.25,101.15 275.9,100.8 276.7,100.43 277.5,100.2 278.13,99.95 278.77,99.73 279.4,99.5 280.1,99.3" fill="none" stroke="#ff0000" stroke-width="1.5" stroke-linejoin="round" stroke-linecap="round"/>
<polyline points="284.4,97.4 285.02,97.21 285.64,97.38 286.27,97.07 286.89,97.21 287.51,97.1 288.13,97.27 288.76,97.05 289.38,97.02 290,97.3 290.67,97.3 291.33,97.37 292,97.7 292.67,97.78 293.33,98.03 294,98 294.7,98.27 295.4,98.48 296.1,98.75 296.8,98.7 297.65,99.03 298.5,99.5 299.15,101.75 299.8,104 300.8,115 301.5,123.5 302.2,122 302.9,134.3 303.6,122 304.5,108 305.5,101 306.2,99.4 306.9,98 307.52,98.19 308.14,97.59 308.76,97.83 309.38,97.69 310,97.5 310.62,97.19 311.25,97.63 311.88,97.62 312.5,97.43 313.12,97.45 313.75,97.46 314.38,97.02 315,97.2 315.62,97.19 316.25,97.15 316.88,97.33 317.5,97.28 318.12,97.27 318.75,97.1 319.38,97.26 320,97" fill="none" stroke="#ff0000" stroke-width="1.5" stroke-linejoin="round" stroke-linecap="round"/>
<polyline points="84.5,174 85.1,174.11 85.7,174.12 86.31,173.84 86.91,173.72 87.51,173.78 88.11,173.92 88.71,173.76 89.31,174.2 89.92,174.04 90.52,174.08 91.12,174.08 91.72,174.11 92.32,173.99 92.92,173.7 93.53,174.18 94.13,174.15 94.73,174 95.33,174.02 95.93,174.1 96.53,173.74 97.14,174.14 97.74,173.85 98.34,173.74 98.94,173.86 99.54,174.14 100.14,173.82 100.75,174.14 101.35,174.29 101.95,174 102.55,173.93 103.15,173.99 103.75,174.11 104.36,174.16 104.96,174.07 105.56,174.09 106.16,173.75 106.76,173.79 107.36,173.85 107.97,174.15 108.57,173.88 109.17,174.04 109.77,173.71 110.37,173.74 110.97,173.86 111.58,174.1 112.18,174.12 112.78,174.11 113.38,173.87 113.98,174.01 114.58,173.98 115.19,173.98 115.79,173.77 116.39,174.24 116.99,173.82 117.59,174.29 118.19,174.26 118.8,173.71 119.4,173.98 120,174 120.6,174.19 121.2,174.28 121.8,173.98 122.4,173.87 123,173.84 123.6,174.28 124.2,173.84 124.8,174.06 125.4,173.8 126,174.03 126.6,174.29 127.2,173.8 127.8,174.22 128.4,174.03 129,174.26 129.6,174.15 130.2,173.87 130.8,174.27 131.4,174.03 132,173.75 132.6,173.74 133.2,174.04 133.8,174.02 134.4,173.93 135,173.83 135.6,173.96 136.2,173.94 136.8,174.26 137.4,173.76 138,174.21 138.6,174.27 139.2,173.84 139.8,174.32 140.4,174.2 141,174.31 141.6,173.95 142.2,174 142.8,174.01 143.4,174.38 144,174.13 144.6,174 145.2,174.04 145.8,173.95 146.4,173.82 147,173.85 147.6,174.29 148.2,173.97 148.8,174.36 149.4,173.95 150,174.1 150.6,173.96 151.2,174.11 151.8,173.93 152.4,174.04 153,174.39 153.6,174.35 154.2,174.32 154.8,174.21 155.4,174.38 156,174.4 156.6,174.17 157.2,174.28 157.8,173.88 158.4,174.3 159,174.13 159.6,174.32 160.2,174.25 160.8,174.04 161.4,173.91 162,174.44 162.6,173.96 163.2,174.17 163.8,174.1 164.4,174.07 165,174.2 165.64,174.38 166.27,174.56 166.91,174.17 167.55,174.44 168.18,174.26 168.82,174.45 169.45,174.39 170.09,174.29 170.73,174.32 171.36,174.39 172,174.6 172.66,174.92 173.32,174.76 173.98,174.67 174.64,175.16 175.3,175 175.8,178.4 176.3,175 176.92,175.23 177.53,174.84 178.15,174.58 178.77,174.55 179.38,174.42 180,174.6 180.62,174.48 181.25,174.3 181.88,174.37 182.5,174.36 183.12,174.52 183.75,174.68 184.38,174.57 185,174.35 185.62,174.32 186.25,174.36 186.88,174.25 187.5,174.2 188.12,174.01 188.75,174.12 189.38,174.51 190,174.2 190.6,173.96 191.2,174.17 191.8,174.23 192.4,174.35 193,173.95 193.6,173.97 194.2,173.94 194.8,174.01 195.4,174.02 196,174.31 196.6,174.23 197.2,174.23 197.8,173.71 198.4,173.7 199,174.09 199.6,174.18 200.2,173.91 200.8,173.96 201.4,173.6 202,173.81 202.6,174.12 203.2,174.04 203.8,174.05 204.4,174.1 205,173.8 205.6,173.69 206.2,173.65 206.8,173.71 207.4,173.97 208,174 208.6,174.61 209.2,175.26 209.8,175.5 210.6,182 211.1,192.9 211.6,182 212.4,175.5 213.2,174.98 214,174.2 214.6,174.25 215.2,174.28 215.8,174.05 216.4,174.07 217,173.72 217.6,174.13 218.2,173.76 218.8,174.13 219.4,173.93 220,173.8 220.62,173.69 221.25,173.58 221.87,173.66 222.5,173.9 223.12,173.94 223.74,173.59 224.37,173.57 224.99,173.85 225.62,173.89 226.24,173.77 226.86,173.68 227.49,173.91 228.11,173.56 228.74,173.74 229.36,173.84 229.98,174.14 230.61,173.95 231.23,174.1 231.86,173.86 232.48,173.72 233.1,173.73 233.73,174.16 234.35,174.01 234.98,173.78 235.6,173.9" fill="none" stroke="#0000ff" stroke-width="1.5" stroke-linejoin="round" stroke-linecap="round"/>
<polyline points="240.2,175.8 241.05,175.96 241.9,176.7 242.53,177.03 243.17,177.47 243.8,177.7 244.45,178.3 245.1,179 245.73,179.05 246.37,179.5 247,179.6 247.63,180.09 248.27,179.9 248.9,180.3 249.53,179.69 250.17,179.54 250.8,179.3 251.65,179.6 252.5,180 253.13,180.21 253.77,180.02 254.4,180.3 255.05,181.13 255.7,181.6 256.6,183.2 257.3,185.4 257.9,189.3 258.6,195 259.7,219.3 260.7,200 261.4,192 262.1,184.8 262.7,181.6 263.35,181.09 264,180.3 264.8,179.5 265.6,178.7 266.23,178.29 266.87,178.52 267.5,178 268.15,177.66 268.8,177.74 269.45,177.16 270.1,177.1 270.75,176.76 271.4,176.91 272.05,176.45 272.7,176.4 273.35,176.52 274,176.1 274.65,175.76 275.3,175.8 275.93,175.46 276.55,175.4 277.18,175.37 277.8,175.1 278.57,175.17 279.33,174.49 280.1,174.5" fill="none" stroke="#0000ff" stroke-width="1.5" stroke-linejoin="round" stroke-linecap="round"/>
<polyline points="284.4,174.1 285.03,174.07 285.67,173.99 286.3,174.48 286.93,174.02 287.57,174 288.2,174.04 288.83,174.27 289.47,174.61 290.1,174.63 290.73,174.57 291.37,174.77 292,174.5 292.67,174.96 293.33,174.8 294,174.91 294.67,175.56 295.33,175.65 296,175.7 296.67,176.19 297.33,177.33 298,178 298.75,181.5 299.5,185 300.5,192 301.2,195.8 302,197 303.2,199.2 304,192 305,184 305.8,179 307,175.5 308,174.6 308.6,174.49 309.2,174.44 309.8,174.38 310.4,174.24 311,174.1 311.6,174.23 312.2,174.23 312.8,174.55 313.4,174.01 314,174.2 314.6,174.46 315.2,173.98 315.8,174.05 316.4,174.31 317,174.29 317.6,174.04 318.2,173.79 318.8,174.02 319.4,173.94 320,174" fill="none" stroke="#0000ff" stroke-width="1.5" stroke-linejoin="round" stroke-linecap="round"/>
<polyline points="84.5,250.8 85.1,251.05 85.7,250.62 86.3,250.72 86.9,251.04 87.5,250.52 88.11,250.75 88.71,250.99 89.31,250.96 89.91,250.52 90.51,250.52 91.11,250.54 91.71,251.05 92.31,250.65 92.91,250.95 93.51,251.04 94.11,250.7 94.72,250.66 95.32,251.07 95.92,250.87 96.52,250.66 97.12,250.93 97.72,250.69 98.32,250.67 98.92,250.5 99.52,250.95 100.12,251.05 100.72,250.88 101.33,251.07 101.93,250.51 102.53,250.64 103.13,250.79 103.73,251.07 104.33,251.07 104.93,250.73 105.53,250.65 106.13,250.76 106.73,250.8 107.33,251.06 107.94,250.61 108.54,250.98 109.14,250.94 109.74,250.99 110.34,250.96 110.94,250.86 111.54,250.7 112.14,250.69 112.74,250.72 113.34,250.97 113.94,250.55 114.55,250.62 115.15,250.95 115.75,250.65 116.35,250.54 116.95,250.52 117.55,250.83 118.15,250.7 118.75,251.09 119.35,251.03 119.95,251.09 120.56,250.66 121.16,250.55 121.76,250.56 122.36,250.8 122.96,250.93 123.56,250.77 124.16,250.64 124.76,250.75 125.36,250.87 125.96,250.9 126.56,250.95 127.17,251.01 127.77,250.9 128.37,250.57 128.97,251 129.57,250.68 130.17,250.84 130.77,250.72 131.37,250.94 131.97,250.62 132.57,250.65 133.17,250.65 133.78,250.59 134.38,251.03 134.98,250.85 135.58,250.7 136.18,250.74 136.78,251.1 137.38,250.8 137.98,250.64 138.58,250.99 139.18,250.89 139.78,251.09 140.39,250.56 140.99,250.78 141.59,250.99 142.19,251 142.79,251.05 143.39,250.52 143.99,250.68 144.59,250.57 145.19,250.61 145.79,251.08 146.39,250.85 147,251.06 147.6,250.72 148.2,251.02 148.8,250.77 149.4,250.66 150,250.8 150.6,250.97 151.21,251.07 151.81,250.57 152.42,250.86 153.03,250.88 153.63,250.64 154.24,250.73 154.84,250.59 155.44,250.63 156.05,250.66 156.66,250.87 157.26,250.9 157.87,250.64 158.47,250.52 159.07,250.71 159.68,250.92 160.28,250.63 160.89,250.71 161.5,250.64 162.1,251 162.71,250.85 163.31,250.56 163.91,250.58 164.52,250.76 165.12,250.86 165.73,250.91 166.34,250.58 166.94,250.63 167.54,250.95 168.15,250.78 168.75,250.7 169.36,250.72 169.97,251.1 170.57,250.72 171.18,250.87 171.78,250.75 172.38,250.79 172.99,251.06 173.59,251.14 174.2,250.76 174.81,250.66 175.41,250.98 176.01,250.67 176.62,250.55 177.22,251.09 177.83,250.8 178.44,251.04 179.04,250.79 179.65,251.08 180.25,250.83 180.85,250.65 181.46,250.56 182.06,250.88 182.67,250.94 183.28,251.1 183.88,250.61 184.49,250.93 185.09,250.78 185.69,250.86 186.3,250.65 186.91,250.73 187.51,250.87 188.12,251.12 188.72,250.63 189.32,250.86 189.93,251.05 190.53,251.15 191.14,250.69 191.75,250.64 192.35,251.14 192.95,251.16 193.56,250.86 194.16,250.61 194.77,251.13 195.38,250.81 195.98,251.12 196.59,250.95 197.19,251.07 197.8,250.68 198.4,251.05 199,250.71 199.61,250.82 200.22,251.09 200.82,251.08 201.43,250.69 202.03,250.72 202.63,250.83 203.24,250.9 203.84,250.82 204.45,250.66 205.06,250.74 205.66,251.03 206.26,251.13 206.87,250.62 207.47,250.93 208.08,251.05 208.69,250.62 209.29,251.1 209.89,250.67 210.5,250.9 211.5,252.8 212.5,250.9 213.11,250.96 213.72,250.92 214.32,250.97 214.93,250.77 215.54,250.84 216.15,250.93 216.76,250.84 217.36,250.97 217.97,250.84 218.58,250.84 219.19,250.59 219.79,250.94 220.4,250.86 221.01,250.7 221.62,251.02 222.23,251.03 222.83,250.83 223.44,250.66 224.05,250.83 224.66,250.61 225.27,250.62 225.87,250.8 226.48,250.59 227.09,250.8 227.7,250.84 228.31,250.56 228.91,250.91 229.52,250.58 230.13,250.96 230.74,250.99 231.34,250.83 231.95,250.55 232.56,250.82 233.17,250.74 233.78,251.08 234.38,250.59 234.99,251.02 235.6,250.8" fill="none" stroke="#ff00ff" stroke-width="1.5" stroke-linejoin="round" stroke-linecap="round"/>
<polyline points="240,251.5 240.62,251.96 241.25,251.96 241.88,252.18 242.5,251.97 243.12,252.6 243.75,252.47 244.38,252.91 245,252.8 245.62,253.16 246.25,252.82 246.88,253.31 247.5,253.51 248.12,253.1 248.75,253.39 249.38,253.74 250,253.7 250.6,253.42 251.2,253.78 251.8,253.32 252.4,253.57 253,253.3 253.67,253.15 254.33,253.43 255,253.5 256,254.4 256.6,261.1 257.3,256 258.5,257 259.2,270 260,286.6 260.8,270 261.5,259 262,258.4 263,256 263.67,255.59 264.33,254.49 265,254 265.62,253.67 266.25,253.63 266.88,253.33 267.5,252.97 268.12,252.87 268.75,252.67 269.38,252.95 270,252.5 270.62,252.52 271.25,252.56 271.88,252.04 272.5,252.32 273.12,251.83 273.75,251.99 274.38,251.97 275,251.8 275.64,251.58 276.27,251.75 276.91,251.42 277.55,251.3 278.19,251.34 278.83,250.74 279.46,251.13 280.1,250.7" fill="none" stroke="#ff00ff" stroke-width="1.5" stroke-linejoin="round" stroke-linecap="round"/>
<polyline points="284.4,250.7 285.02,250.81 285.64,250.7 286.27,250.98 286.89,250.69 287.51,251.16 288.13,250.95 288.76,250.85 289.38,251.13 290,251 290.6,251.37 291.2,251.61 291.8,252.35 292.4,252.33 293,253 293.75,253.69 294.5,254 295.15,256.1 295.8,258.2 297,255.5 297.75,256.6 298.5,258 299.5,265 300.2,273.45 300.9,281.9 301.6,272 302.3,268.5 303,272 303.5,279.9 304.3,270 305,262 305.8,257.1 306.9,255.8 307.55,256.88 308.2,257.8 308.87,256.52 309.53,254.72 310.2,253.1 310.9,252.66 311.6,251.92 312.3,251.5 312.92,251.12 313.53,251.05 314.15,251.04 314.77,251.24 315.38,251.04 316,251 316.6,250.96 317.2,251.14 317.8,250.63 318.4,250.64 319,250.84 319.6,250.7" fill="none" stroke="#ff00ff" stroke-width="1.5" stroke-linejoin="round" stroke-linecap="round"/>
<polyline points="84.5,327.4 85.1,327.11 85.7,327.1 86.31,327.31 86.91,327.16 87.51,327.31 88.11,327.23 88.71,327.45 89.32,327.45 89.92,327.22 90.52,327.47 91.12,327.38 91.72,327.18 92.33,327.66 92.93,327.25 93.53,327.19 94.13,327.16 94.73,327.48 95.34,327.62 95.94,327.57 96.54,327.34 97.14,327.26 97.74,327.11 98.35,327.49 98.95,327.44 99.55,327.31 100.15,327.49 100.75,327.37 101.36,327.66 101.96,327.54 102.56,327.25 103.16,327.64 103.76,327.13 104.37,327.42 104.97,327.34 105.57,327.24 106.17,327.14 106.77,327.57 107.38,327.11 107.98,327.43 108.58,327.66 109.18,327.19 109.78,327.22 110.39,327.46 110.99,327.4 111.59,327.48 112.19,327.59 112.79,327.2 113.4,327.29 114,327.28 114.6,327.13 115.2,327.63 115.8,327.57 116.41,327.53 117.01,327.1 117.61,327.61 118.21,327.55 118.81,327.38 119.42,327.55 120.02,327.37 120.62,327.24 121.22,327.16 121.82,327.24 122.43,327.12 123.03,327.3 123.63,327.55 124.23,327.52 124.83,327.61 125.44,327.53 126.04,327.26 126.64,327.43 127.24,327.36 127.84,327.57 128.45,327.41 129.05,327.26 129.65,327.49 130.25,327.68 130.85,327.23 131.46,327.63 132.06,327.11 132.66,327.26 133.26,327.24 133.86,327.55 134.47,327.67 135.07,327.55 135.67,327.3 136.27,327.63 136.87,327.3 137.48,327.24 138.08,327.64 138.68,327.48 139.28,327.52 139.88,327.5 140.49,327.69 141.09,327.38 141.69,327.6 142.29,327.52 142.89,327.61 143.5,327.36 144.1,327.53 144.7,327.44 145.3,327.28 145.9,327.23 146.51,327.47 147.11,327.15 147.71,327.65 148.31,327.19 148.91,327.12 149.52,327.16 150.12,327.66 150.72,327.31 151.32,327.19 151.92,327.12 152.53,327.12 153.13,327.52 153.73,327.48 154.33,327.52 154.93,327.54 155.54,327.14 156.14,327.45 156.74,327.32 157.34,327.59 157.94,327.59 158.55,327.63 159.15,327.14 159.75,327.62 160.35,327.65 160.95,327.67 161.55,327.16 162.16,327.22 162.76,327.17 163.36,327.12 163.96,327.61 164.56,327.59 165.17,327.48 165.77,327.6 166.37,327.48 166.97,327.27 167.57,327.16 168.18,327.16 168.78,327.55 169.38,327.22 169.98,327.29 170.58,327.35 171.19,327.11 171.79,327.25 172.39,327.27 172.99,327.53 173.59,327.32 174.2,327.29 174.8,327.68 175.4,327.4 176,327.61 176.6,327.47 177.21,327.12 177.81,327.35 178.41,327.36 179.01,327.56 179.61,327.31 180.22,327.52 180.82,327.42 181.42,327.23 182.02,327.62 182.62,327.15 183.23,327.59 183.83,327.2 184.43,327.1 185.03,327.22 185.63,327.56 186.24,327.69 186.84,327.1 187.44,327.39 188.04,327.39 188.64,327.58 189.25,327.21 189.85,327.4 190.45,327.31 191.05,327.6 191.65,327.26 192.26,327.67 192.86,327.27 193.46,327.23 194.06,327.52 194.66,327.4 195.27,327.17 195.87,327.48 196.47,327.15 197.07,327.57 197.67,327.52 198.28,327.57 198.88,327.48 199.48,327.31 200.08,327.34 200.68,327.34 201.29,327.63 201.89,327.15 202.49,327.63 203.09,327.12 203.69,327.22 204.3,327.26 204.9,327.64 205.5,327.4 206.1,327.33 206.7,327.63 207.31,327.24 207.91,327.38 208.51,327.42 209.11,327.55 209.71,327.55 210.32,327.49 210.92,327.31 211.52,327.3 212.12,327.19 212.72,327.61 213.33,327.5 213.93,327.55 214.53,327.2 215.13,327.36 215.73,327.56 216.34,327.45 216.94,327.18 217.54,327.38 218.14,327.63 218.74,327.24 219.35,327.21 219.95,327.28 220.55,327.52 221.15,327.61 221.75,327.19 222.36,327.19 222.96,327.25 223.56,327.3 224.16,327.41 224.76,327.2 225.37,327.3 225.97,327.21 226.57,327.69 227.17,327.54 227.77,327.16 228.38,327.68 228.98,327.16 229.58,327.33 230.18,327.69 230.78,327.58 231.39,327.54 231.99,327.36 232.59,327.22 233.19,327.48 233.79,327.16 234.4,327.22 235,327.33 235.6,327.4" fill="none" stroke="#ff8000" stroke-width="1.5" stroke-linejoin="round" stroke-linecap="round"/>
<polyline points="240,327.8 240.62,327.57 241.25,327.84 241.88,328.12 242.5,328.12 243.12,328.05 243.75,328.18 244.38,328.13 245,328.2 245.62,328.02 246.25,328.34 246.88,328.26 247.5,328.49 248.12,328.63 248.75,328.38 249.38,328.51 250,328.5 250.67,328.78 251.33,328.72 252,328.74 252.67,329.17 253.33,329.39 254,329.3 254.67,329.63 255.33,329.75 256,329.8 256.6,330.5 257.5,330 258.5,333 259.2,338.1 259.9,338.31 260.6,338.1 261.3,333 262,329.5 263,330.5 264,329.2 265,329 265.62,329.02 266.25,328.91 266.88,328.71 267.5,328.54 268.12,328.64 268.75,328.23 269.38,328.34 270,328.3 270.62,328.43 271.25,328.35 271.88,328.27 272.5,328 273.12,328.07 273.75,328.05 274.38,328.11 275,328 275.64,327.91 276.27,328.03 276.91,328.15 277.55,327.66 278.19,327.91 278.83,327.94 279.46,327.67 280.1,327.7" fill="none" stroke="#ff8000" stroke-width="1.5" stroke-linejoin="round" stroke-linecap="round"/>
<polyline points="284.4,327.6 285.02,327.64 285.64,327.97 286.27,327.46 286.89,327.8 287.51,327.62 288.13,328.04 288.76,328.18 289.38,327.97 290,328 290.75,328.76 291.5,330 292.15,331.44 292.8,332.8 294,331.5 294.75,331.12 295.5,330.7 296.25,331.23 297,331.5 297.75,333.26 298.5,335 299.5,343 300.6,353.1 301.4,346 302.2,342.1 303,346 303.9,350.2 304.8,342 305.5,334 306.2,330.7 306.87,330.22 307.53,329.76 308.2,329 308.8,329.68 309.4,330.28 310,331 311.2,333 311.85,332.27 312.5,331 313.6,329 314.4,328.49 315.2,328.44 316,328 316.6,327.84 317.2,327.96 317.8,327.47 318.4,327.89 319,327.41 319.6,327.4" fill="none" stroke="#ff8000" stroke-width="1.5" stroke-linejoin="round" stroke-linecap="round"/>
<polyline points="84.9,404.4 85.5,404.13 86.1,404.26 86.7,404.34 87.3,404.11 87.9,404.35 88.5,404.35 89.1,404.52 89.7,404.31 90.3,404.26 90.9,404.23 91.5,404.54 92.1,404.66 92.71,404.42 93.31,404.23 93.91,404.58 94.51,404.34 95.11,404.23 95.71,404.18 96.31,404.57 96.91,404.59 97.51,404.48 98.11,404.38 98.71,404.44 99.31,404.24 99.91,404.68 100.51,404.31 101.11,404.48 101.71,404.59 102.31,404.59 102.91,404.38 103.51,404.28 104.11,404.43 104.71,404.18 105.31,404.6 105.91,404.31 106.51,404.61 107.11,404.26 107.72,404.33 108.32,404.25 108.92,404.36 109.52,404.21 110.12,404.1 110.72,404.53 111.32,404.27 111.92,404.25 112.52,404.28 113.12,404.39 113.72,404.36 114.32,404.48 114.92,404.5 115.52,404.32 116.12,404.66 116.72,404.61 117.32,404.13 117.92,404.6 118.52,404.64 119.12,404.57 119.72,404.18 120.32,404.6 120.92,404.48 121.52,404.11 122.12,404.11 122.73,404.67 123.33,404.49 123.93,404.25 124.53,404.16 125.13,404.19 125.73,404.24 126.33,404.57 126.93,404.31 127.53,404.19 128.13,404.64 128.73,404.58 129.33,404.2 129.93,404.63 130.53,404.47 131.13,404.57 131.73,404.5 132.33,404.64 132.93,404.57 133.53,404.6 134.13,404.22 134.73,404.52 135.33,404.42 135.93,404.55 136.53,404.36 137.13,404.63 137.74,404.43 138.34,404.26 138.94,404.24 139.54,404.18 140.14,404.4 140.74,404.14 141.34,404.38 141.94,404.19 142.54,404.39 143.14,404.4 143.74,404.42 144.34,404.62 144.94,404.1 145.54,404.6 146.14,404.38 146.74,404.44 147.34,404.5 147.94,404.6 148.54,404.32 149.14,404.35 149.74,404.68 150.34,404.15 150.94,404.48 151.54,404.48 152.14,404.12 152.75,404.47 153.35,404.51 153.95,404.66 154.55,404.3 155.15,404.69 155.75,404.41 156.35,404.39 156.95,404.64 157.55,404.12 158.15,404.53 158.75,404.48 159.35,404.3 159.95,404.62 160.55,404.32 161.15,404.38 161.75,404.42 162.35,404.56 162.95,404.23 163.55,404.36 164.15,404.35 164.75,404.43 165.35,404.6 165.95,404.28 166.55,404.6 167.15,404.34 167.75,404.4 168.36,404.26 168.96,404.4 169.56,404.68 170.16,404.49 170.76,404.58 171.36,404.3 171.96,404.29 172.56,404.28 173.16,404.45 173.76,404.48 174.36,404.57 174.96,404.12 175.56,404.53 176.16,404.63 176.76,404.43 177.36,404.13 177.96,404.28 178.56,404.1 179.16,404.21 179.76,404.65 180.36,404.47 180.96,404.49 181.56,404.57 182.16,404.65 182.76,404.47 183.37,404.47 183.97,404.48 184.57,404.52 185.17,404.46 185.77,404.51 186.37,404.23 186.97,404.5 187.57,404.37 188.17,404.56 188.77,404.16 189.37,404.21 189.97,404.12 190.57,404.56 191.17,404.65 191.77,404.49 192.37,404.32 192.97,404.59 193.57,404.57 194.17,404.44 194.77,404.25 195.37,404.28 195.97,404.35 196.57,404.29 197.17,404.36 197.77,404.49 198.38,404.66 198.98,404.13 199.58,404.44 200.18,404.12 200.78,404.17 201.38,404.59 201.98,404.45 202.58,404.65 203.18,404.37 203.78,404.11 204.38,404.33 204.98,404.46 205.58,404.66 206.18,404.69 206.78,404.39 207.38,404.35 207.98,404.16 208.58,404.49 209.18,404.23 209.78,404.19 210.38,404.11 210.98,404.1 211.58,404.51 212.18,404.17 212.78,404.68 213.39,404.15 213.99,404.62 214.59,404.18 215.19,404.11 215.79,404.53 216.39,404.25 216.99,404.54 217.59,404.21 218.19,404.13 218.79,404.56 219.39,404.53 219.99,404.61 220.59,404.54 221.19,404.15 221.79,404.48 222.39,404.53 222.99,404.38 223.59,404.66 224.19,404.25 224.79,404.68 225.39,404.53 225.99,404.11 226.59,404.11 227.19,404.49 227.79,404.59 228.4,404.15 229,404.29 229.6,404.54 230.2,404.2 230.8,404.62 231.4,404.39 232,404.14 232.6,404.32 233.2,404.44 233.8,404.36 234.4,404.51 235,404.19 235.6,404.4" fill="none" stroke="#8000ff" stroke-width="1.5" stroke-linejoin="round" stroke-linecap="round"/>
<polyline points="240,405 240.62,405.2 241.25,404.96 241.88,405.14 242.5,405.15 243.12,405.04 243.75,405.04 244.38,405.3 245,405.42 245.62,405.34 246.25,405.23 246.88,405.08 247.5,404.96 248.12,405.53 248.75,405.38 249.38,405.48 250,405.3 250.62,405.22 251.25,405.41 251.88,405.66 252.5,405.6 253.12,405.49 253.75,405.34 254.38,405.43 255,405.5 255.6,405.83 256.2,405.63 256.8,405.91 257.4,405.96 258,406 258.67,406.5 259.33,406.72 260,406.8 260.67,406.34 261.33,405.83 262,405.8 262.6,405.56 263.2,405.55 263.8,405.55 264.4,405.59 265,405.3 265.62,405.52 266.25,405 266.88,405.46 267.5,405.44 268.12,405.46 268.75,405.27 269.38,405.08 270,405.2 270.62,405.45 271.25,405.46 271.88,405.42 272.5,405.6 273.12,405.3 273.75,405.18 274.38,405.49 275,405.5 275.64,405.58 276.27,405.12 276.91,405.35 277.55,405.36 278.19,404.84 278.83,404.96 279.46,404.91 280.1,404.7" fill="none" stroke="#8000ff" stroke-width="1.5" stroke-linejoin="round" stroke-linecap="round"/>
<polyline points="284.4,404.7 285.1,405.45 285.8,406.06 286.5,407 287.3,408.25 288.1,409.8 288.83,409.43 289.55,408.92 290.27,408.2 291,407.7 291.67,407.05 292.33,407.08 293,406.5 293.6,406.4 294.2,405.81 294.8,405.7 295.65,406.9 296.5,408 297.5,411.1 298.5,415 299.5,420.5 300.1,422.17 300.7,423.6 301.3,424.8 301.95,420.95 302.6,417.1 303.4,419.8 304.2,422.5 304.8,419.13 305.4,415.77 306,412.4 307.2,407 308.2,405.5 308.9,405.56 309.6,405.59 310.3,405.7 311,405.7 311.67,405.95 312.33,406.38 313,407 313.65,407.23 314.3,407.97 314.95,408.19 315.6,408.7 316.4,407.67 317.2,406.51 318,405.5 318.67,405.14 319.33,404.56 320,404.4" fill="none" stroke="#8000ff" stroke-width="1.5" stroke-linejoin="round" stroke-linecap="round"/>
<text x="99.3" y="76.1" font-size="15.7" text-anchor="start" fill="#000" font-weight="normal" transform="matrix(1 0 0 1.07 0 -5.33)">0 mT</text>
<text x="99.3" y="152.8" font-size="15.7" text-anchor="start" fill="#ff0000" font-weight="normal" transform="matrix(1 0 0 1.07 0 -10.7)">0.5 mT</text>
<text x="99.3" y="229.5" font-size="15.7" text-anchor="start" fill="#0000ff" font-weight="normal" transform="matrix(1 0 0 1.07 0 -16.07)">1.0 mT</text>
<text x="99.3" y="306.2" font-size="15.7" text-anchor="start" fill="#ff00ff" font-weight="normal" transform="matrix(1 0 0 1.07 0 -21.43)">2.0 mT</text>
<text x="99.3" y="382.9" font-size="15.7" text-anchor="start" fill="#ff8000" font-weight="normal" transform="matrix(1 0 0 1.07 0 -26.8)">3.0 mT</text>
<text x="99.3" y="459.6" font-size="15.7" text-anchor="start" fill="#8000ff" font-weight="normal" transform="matrix(1 0 0 1.07 0 -32.17)">4.0 mT</text>
<polyline points="432.9,23.7 433.5,23.43 434.1,24 434.71,23.63 435.31,23.47 435.91,23.79 436.51,23.89 437.12,23.51 437.72,23.78 438.32,23.63 438.92,23.73 439.52,23.44 440.13,23.45 440.73,24.02 441.33,23.95 441.93,23.73 442.54,23.78 443.14,23.59 443.74,23.91 444.34,23.7 444.94,24.01 445.55,23.91 446.15,23.94 446.75,24.03 447.35,23.61 447.96,23.48 448.56,23.58 449.16,23.57 449.76,23.51 450.36,23.5 450.97,23.8 451.57,23.99 452.17,23.75 452.77,24.04 453.38,24.02 453.98,23.52 454.58,23.84 455.18,23.72 455.78,23.56 456.39,24.06 456.99,23.64 457.59,23.83 458.19,23.88 458.8,24.07 459.4,23.9 460,23.8 460.61,23.74 461.21,23.78 461.82,23.61 462.42,24.1 463.03,24.13 463.64,23.67 464.24,23.57 464.85,23.7 465.45,23.77 466.06,24.1 466.67,24.11 467.27,24.08 467.88,23.61 468.48,24.06 469.09,24.02 469.7,23.98 470.3,24.19 470.91,23.64 471.52,23.7 472.12,24.07 472.73,24.19 473.33,24.04 473.94,23.82 474.55,24 475.15,24.11 475.76,23.72 476.36,23.86 476.97,23.82 477.58,23.75 478.18,23.97 478.79,23.79 479.39,23.84 480,24 480.63,23.79 481.26,24.11 481.89,23.71 482.52,24.13 483.15,23.82 483.78,23.72 484.42,24.26 485.05,23.83 485.68,24.26 486.31,24.22 486.94,24.23 487.57,23.78 488.2,24 488.6,26.6 489,24 489.6,23.97 490.21,23.77 490.81,24.27 491.42,24.22 492.02,24.1 492.63,24 493.23,23.94 493.84,24.23 494.44,24.03 495.05,24.12 495.65,23.84 496.25,23.89 496.86,23.79 497.46,24.19 498.07,24.1 498.67,23.86 499.28,24.3 499.88,23.94 500.49,24.03 501.09,23.88 501.7,23.96 502.3,24.1 502.7,27.5 503.1,24.1 503.73,24.29 504.35,23.96 504.98,23.85 505.61,24.02 506.24,23.9 506.86,24.23 507.49,23.74 508.12,24.24 508.75,23.67 509.37,24.16 510,23.9 510.62,24.02 511.23,23.77 511.85,23.96 512.46,23.86 513.08,23.87 513.69,23.86 514.31,23.98 514.92,24.38 515.54,24.41 516.15,24.39 516.77,23.91 517.38,24.05 518,24.2 518.6,24.56 519.2,24.17 519.8,24.7 520.4,24.56 521,24.8 521.9,25.94 522.8,26.5 523.9,34.2 525,26.5 525.67,25.84 526.33,25.95 527,25.4 527.62,25.27 528.23,25.12 528.85,25.01 529.46,25.48 530.08,25.26 530.69,25.03 531.31,25.15 531.92,25.4 532.54,24.95 533.15,25.14 533.77,24.84 534.38,24.84 535,25 535.62,25.15 536.25,25.1 536.88,24.78 537.5,24.7 538.12,24.69 538.75,24.99 539.38,24.91 540,24.76 540.62,24.71 541.25,24.94 541.88,24.99 542.5,25.04 543.12,24.89 543.75,24.65 544.38,24.55 545,24.8 545.62,24.94 546.23,24.74 546.85,24.93 547.46,24.53 548.08,24.99 548.69,24.7 549.31,25.01 549.92,25.02 550.54,24.8 551.15,24.51 551.77,25.05 552.38,24.79 553,24.8 553.6,25.16 554.2,24.94 554.8,25.03 555.4,25.56 556,25.5 556.77,26.92 557.53,28.3 558.3,30 558.95,39.55 559.6,49.1 560.25,39.55 560.9,30 561.6,28.42 562.3,27.06 563,25.5 563.64,25.14 564.27,25.38 564.91,25.28 565.55,25.25 566.18,24.95 566.82,25.25 567.45,25.24 568.09,25.21 568.73,24.82 569.36,24.99 570,24.8 570.63,24.73 571.25,24.96 571.88,24.55 572.51,25.04 573.14,25.1 573.76,24.82 574.39,24.84 575.02,24.85 575.65,24.86 576.27,24.56 576.9,25.13 577.53,24.69 578.15,24.67 578.78,24.63 579.41,24.72 580.04,25.06 580.66,24.6 581.29,24.64 581.92,25.01 582.55,24.71 583.17,24.61 583.8,24.9" fill="none" stroke="#000" stroke-width="1.5" stroke-linejoin="round" stroke-linecap="round"/>
<polyline points="588.4,25.4 589,25.56 589.6,25.65 590.2,25.71 590.8,25.92 591.4,25.66 592,26 592.67,26.29 593.33,26.26 594,25.93 594.67,26.04 595.33,26.33 596,26.4 596.67,26.33 597.33,26.13 598,25.97 598.67,26.08 599.33,25.85 600,26 600.67,26.03 601.35,26.17 602.02,25.71 602.7,25.94 603.38,26.02 604.05,25.65 604.73,26.02 605.4,25.8 606.1,26.3 606.8,26.2 607.5,26.5 608.3,30.1 609.2,26.5 609.9,26.08 610.6,25.95 611.3,25.39 612,25 612.62,24.93 613.23,25.25 613.85,25.14 614.46,24.87 615.08,24.81 615.69,24.85 616.31,24.91 616.92,25.23 617.54,25.11 618.15,25.17 618.77,25.1 619.38,25.12 620,24.9 620.63,24.63 621.27,24.91 621.9,25.17 622.53,25.16 623.17,24.75 623.8,24.85 624.43,24.98 625.07,24.82 625.7,24.92 626.33,24.64 626.97,24.86 627.6,24.9" fill="none" stroke="#000" stroke-width="1.5" stroke-linejoin="round" stroke-linecap="round"/>
<polyline points="633.1,24.9 633.71,24.83 634.33,24.46 634.94,24.46 635.55,24.88 636.16,24.69 636.77,24.71 637.39,24.45 638,24.3 638.6,24.44 639.2,24.44 639.8,24.4 640.4,23.85 641,24.17 641.6,23.9 642.2,24 642.97,24.27 643.73,24.2 644.5,24.5 645.4,25.98 646.3,27.4 646.9,29.7 647.5,32 648.6,37.2 649.23,35.27 649.87,33.33 650.5,31.4 651.25,33.1 652,34.3 652.85,30.3 653.7,26.3 654.47,25.61 655.23,24.62 656,24 656.66,23.89 657.32,23.72 657.98,23.91 658.64,23.39 659.3,23.4" fill="none" stroke="#000" stroke-width="1.5" stroke-linejoin="round" stroke-linecap="round"/>
<polyline points="433,123.4 433.6,123.34 434.2,123.61 434.8,123.35 435.4,123.7 436,123.7 436.75,124.01 437.5,123.77 438.25,123.8 438.7,125.7 439.15,123.8 439.78,123.69 440.42,123.85 441.05,123.9 441.5,129.4 441.95,123.9 442.3,123.9 442.7,126.7 443.1,123.9 443.95,124 444.4,127.1 444.85,124 445.95,124 446.4,127.4 446.85,124 447.75,124.1 448.2,129.4 448.65,124.1 449.3,124.12 449.95,124.1 450.4,131.1 450.85,124.1 451.05,124.1 451.4,128.4 451.75,124.1 452.4,123.94 453.05,124.2 453.5,135.4 453.95,124.2 455,125.04 455.4,125.6 455.8,127.03 456.15,130.59 456.5,135.4 456.85,130.59 457.2,127.03 457.6,125.6 458,125.04 458.5,125.2 458.9,125.62 459.4,126.83 459.8,129.52 460.15,136.18 460.5,145.2 460.85,136.18 461.2,129.52 461.6,126.83 462.1,125.62 462.5,125.2 462.3,124.88 462.6,124.99 463.2,125.4 463.7,126.29 464.1,128.27 464.45,133.17 464.8,139.8 465.15,133.17 465.5,128.27 465.9,126.29 466.4,125.4 467,124.99 467.3,124.88 467.8,125.5 468,125.58 468.8,126.15 469.4,127.2 469.9,129.47 470.3,134.52 470.65,147.05 471,164 471.35,147.05 471.7,134.52 472.1,129.47 472.6,127.2 473.2,126.15 474,125.58 474.2,125.5 474.9,125.63 475.4,125.78 476.2,126.26 476.8,127.15 477.3,129.07 477.7,133.35 478.05,143.95 478.4,158.3 478.75,143.95 479.1,133.35 479.5,129.07 480,127.15 480.6,126.26 481.4,125.78 481.9,125.63 483,125.5 483.6,125.39 484.2,125.52 484.8,125.86 485.8,126.21 486.6,126.89 487.2,128.14 487.7,130.84 488.1,136.87 488.45,151.79 488.8,172 489.15,151.79 489.5,136.87 489.9,130.84 490.4,128.14 491,126.89 491.8,126.21 492.8,125.86 493.53,125.65 494.27,125.63 495,125.6 495.66,125.61 496.31,125.71 496.97,125.76 497.63,126.17 498.29,126.48 498.94,126.47 499.6,126.54 499.6,126.54 500.4,127.16 501,128.29 501.5,130.75 501.9,136.24 502.25,149.81 502.6,168.2 502.95,149.81 503.3,136.24 503.7,130.75 504.2,128.29 504.8,127.16 505.6,126.54 505.6,126.54 506.5,126.1 507.12,126.39 507.75,126.69 508.38,126.67 509,127.1 509.6,127.41 510.2,127.44 510.8,127.67 511.4,127.89 512,128 512.67,128.01 513.33,127.95 514,128.1 514.67,128.61 515.33,129.27 516,130.1 516.67,130.21 517.33,130.23 518,130.4 518.75,130.95 519.5,131.4 520.25,130.96 521,131.1 522,133.1 522.6,141.55 523.2,150 524,178.9 524.8,150 525.4,143.55 526,137.1 526.75,136.16 527.5,135.4 528.25,135.32 529,134.8 530,137.1 530.75,136.29 531.5,135.8 532.25,135.48 533,135.1 533.67,134.86 534.33,134.5 535,134.4 536,133.1 536.75,134.24 537.5,134.8 538.25,133.68 539,132.8 540,132.1 540.62,132.19 541.25,131.75 541.88,131.62 542.5,132.02 543.12,131.69 543.75,131.39 544.38,131.51 545,131.5 545.62,131.65 546.25,132.02 546.88,131.83 547.5,132.09 548.12,132.71 548.75,132.77 549.38,132.61 550,133 550.6,133.36 551.2,133.83 551.8,134.49 552.4,134.91 553,135.3 553.67,134.74 554.33,133.96 555,133 555.75,137.55 556.5,142.1 557.5,143 558.5,160 559.4,183.5 560.3,160 561,139.1 561.67,138.34 562.33,137.71 563,136.8 563.67,135.15 564.33,133.36 565,131.4 565.75,132.69 566.5,134 567.25,132.12 568,129.9 568.67,129.78 569.33,129.65 570,128.93 570.67,129.12 571.33,128.35 572,128.4 572.67,128.83 573.33,128.98 574,129.2 574.67,129.74 575.33,129.78 576,130 576.67,129.93 577.33,130.14 578,130.17 578.67,130 579.33,129.84 580,129.9 580.6,129.94 581.2,130.01 581.8,130.23 582.4,130.04 583,130.17 583.6,130.3" fill="none" stroke="#000" stroke-width="1.5" stroke-linejoin="round" stroke-linecap="round"/>
<polyline points="588,132.4 588.67,132.83 589.33,133.13 590,133.49 590.67,134.17 591.33,134.61 592,134.8 592.67,135.23 593.34,135.62 594.01,135.9 594.69,136.4 595.36,136.73 596.03,137.42 596.7,137.8 597.35,136.3 598,134.7 598.67,134.25 599.33,134.55 600,134.1 600.75,133.69 601.5,133.5 602.25,133.96 603,134 603.67,135 604.33,135.88 605,136.4 605.75,138.02 606.5,140 607.4,150 608.2,162.9 609,150 609.5,140 610.5,131.3 611.25,132.11 612,133 612.6,133.09 613.21,132.4 613.81,132.27 614.42,132.42 615.02,132.23 615.62,132.33 616.23,132.09 616.83,131.79 617.43,131.91 618.04,131.47 618.64,131.32 619.25,131.26 619.85,130.93 620.45,130.76 621.06,130.75 621.66,130.45 622.27,130.65 622.87,130.34 623.47,130.09 624.08,129.68 624.68,129.69 625.28,129.56 625.89,129.5 626.49,129.35 627.1,129.38 627.7,129" fill="none" stroke="#000" stroke-width="1.5" stroke-linejoin="round" stroke-linecap="round"/>
<polyline points="632.9,127.8 633.52,127.87 634.14,127.38 634.76,127.14 635.38,127.05 636,127.06 636.62,126.47 637.24,126.37 637.86,126.34 638.48,125.74 639.1,125.62 639.72,125.81 640.34,125.52 640.96,125.12 641.58,124.67 642.2,124.7 642.97,125.77 643.73,126.48 644.5,127.2 645.25,130.1 646,133 647,142.2 647.8,150.8 648.6,159.4 649.45,152.5 650.3,145.6 651,149.65 651.7,153.7 652.35,146.8 653,139.9 653.75,134.7 654.5,129.5 655.25,127.25 656,125 656.7,125.07 657.4,125.05 658.1,124.87 658.8,124.47 659.5,124.4" fill="none" stroke="#000" stroke-width="1.5" stroke-linejoin="round" stroke-linecap="round"/>
<line x1="424.4" y1="91.1" x2="459.4" y2="91.1" stroke="#000" stroke-width="1.3" stroke-linecap="butt"/>
<text x="463.9" y="96.9" font-size="15.7" text-anchor="start" fill="#000" font-weight="normal" transform="matrix(1 0 0 1.07 0 -6.78)">1 mW</text>
<line x1="424.2" y1="190.7" x2="459" y2="190.7" stroke="#000" stroke-width="1.3" stroke-linecap="butt"/>
<text x="463.2" y="196.4" font-size="15.7" text-anchor="start" fill="#000" font-weight="normal" transform="matrix(1 0 0 1.07 0 -13.75)">10 mW</text>
<text x="203" y="513.9" font-size="20.4" text-anchor="middle" fill="#000" font-weight="normal" transform="matrix(1 0 0 1.07 0 -35.97)">MW Freq. (GHz)</text>
<text x="551.3" y="250.2" font-size="19.3" text-anchor="middle" fill="#000" font-weight="normal" transform="matrix(1 0 0 1.07 0 -17.51)">MW Freq. (GHz)</text>
<text x="21" y="201.3" font-size="22.7" text-anchor="middle" fill="#000" font-weight="normal" transform="rotate(-90 21 201.3)">PL (arb. units)</text>
<text x="369.3" y="113.5" font-size="22.7" text-anchor="middle" fill="#000" font-weight="normal" transform="rotate(-90 369.3 113.5)">PL (arb. units)</text>
<text x="-1.8" y="19.6" font-size="27" text-anchor="start" fill="#000" font-weight="bold">a</text>
<text x="345" y="19.6" font-size="27" text-anchor="start" fill="#000" font-weight="bold">b</text>
<text x="345" y="256.4" font-size="27" text-anchor="start" fill="#000" font-weight="bold">c</text>
<line x1="418.2" y1="270.25" x2="418.2" y2="470.95" stroke="#000" stroke-width="1.3" stroke-linecap="butt"/>
<line x1="684.2" y1="270.25" x2="684.2" y2="470.95" stroke="#000" stroke-width="1.3" stroke-linecap="butt"/>
<line x1="418.2" y1="270.9" x2="684.2" y2="270.9" stroke="#000" stroke-width="1.3" stroke-linecap="butt"/>
<line x1="418.2" y1="470.3" x2="684.2" y2="470.3" stroke="#000" stroke-width="1.3" stroke-linecap="butt"/>
<line x1="418.2" y1="451" x2="422.7" y2="451" stroke="#000" stroke-width="1.1" stroke-linecap="butt"/>
<text x="412.9" y="456.1" font-size="15.5" text-anchor="end" fill="#000" font-weight="normal" transform="matrix(1 0 0 1.1 0 -45.61)">0.00</text>
<line x1="418.2" y1="408.68" x2="422.7" y2="408.68" stroke="#000" stroke-width="1.1" stroke-linecap="butt"/>
<text x="412.9" y="413.78" font-size="15.5" text-anchor="end" fill="#000" font-weight="normal" transform="matrix(1 0 0 1.1 0 -41.38)">0.02</text>
<line x1="418.2" y1="366.36" x2="422.7" y2="366.36" stroke="#000" stroke-width="1.1" stroke-linecap="butt"/>
<text x="412.9" y="371.46" font-size="15.5" text-anchor="end" fill="#000" font-weight="normal" transform="matrix(1 0 0 1.1 0 -37.15)">0.04</text>
<line x1="418.2" y1="324.04" x2="422.7" y2="324.04" stroke="#000" stroke-width="1.1" stroke-linecap="butt"/>
<text x="412.9" y="329.14" font-size="15.5" text-anchor="end" fill="#000" font-weight="normal" transform="matrix(1 0 0 1.1 0 -32.91)">0.06</text>
<line x1="418.2" y1="281.72" x2="422.7" y2="281.72" stroke="#000" stroke-width="1.1" stroke-linecap="butt"/>
<text x="412.9" y="286.82" font-size="15.5" text-anchor="end" fill="#000" font-weight="normal" transform="matrix(1 0 0 1.1 0 -28.68)">0.08</text>
<line x1="445" y1="470.3" x2="445" y2="465.8" stroke="#000" stroke-width="1.1" stroke-linecap="butt"/>
<text x="445" y="487.4" font-size="15.5" text-anchor="middle" fill="#000" font-weight="normal" transform="matrix(1 0 0 1.1 0 -48.74)">0</text>
<line x1="498.23" y1="470.3" x2="498.23" y2="465.8" stroke="#000" stroke-width="1.1" stroke-linecap="butt"/>
<text x="498.23" y="487.4" font-size="15.5" text-anchor="middle" fill="#000" font-weight="normal" transform="matrix(1 0 0 1.1 0 -48.74)">5</text>
<line x1="551.45" y1="470.3" x2="551.45" y2="465.8" stroke="#000" stroke-width="1.1" stroke-linecap="butt"/>
<text x="551.45" y="487.4" font-size="15.5" text-anchor="middle" fill="#000" font-weight="normal" transform="matrix(1 0 0 1.1 0 -48.74)">10</text>
<line x1="604.67" y1="470.3" x2="604.67" y2="465.8" stroke="#000" stroke-width="1.1" stroke-linecap="butt"/>
<text x="604.67" y="487.4" font-size="15.5" text-anchor="middle" fill="#000" font-weight="normal" transform="matrix(1 0 0 1.1 0 -48.74)">15</text>
<line x1="657.9" y1="470.3" x2="657.9" y2="465.8" stroke="#000" stroke-width="1.1" stroke-linecap="butt"/>
<text x="657.9" y="487.4" font-size="15.5" text-anchor="middle" fill="#000" font-weight="normal" transform="matrix(1 0 0 1.1 0 -48.74)">20</text>
<text x="551.8" y="517.1" font-size="20.5" text-anchor="middle" fill="#000" font-weight="normal" transform="matrix(1 0 0 1.07 0 -36.2)">Power (mW)</text>
<text x="370.9" y="381.7" font-size="22.6" text-anchor="middle" fill="#000" font-weight="normal" transform="rotate(-90 370.9 381.7)">|PL| Contrast (arb. units)</text>
<line x1="446.35" y1="436.99" x2="448.97" y2="426.71" stroke="#000000" stroke-width="1.5" stroke-linecap="butt"/>
<line x1="452.64" y1="416.39" x2="453.32" y2="414.94" stroke="#000000" stroke-width="1.5" stroke-linecap="butt"/>
<line x1="459.89" y1="406.45" x2="499.31" y2="373.88" stroke="#000000" stroke-width="1.5" stroke-linecap="butt"/>
<line x1="508.49" y1="367.98" x2="546.5" y2="349.51" stroke="#000000" stroke-width="1.5" stroke-linecap="butt"/>
<line x1="556.93" y1="346.68" x2="652.42" y2="339.28" stroke="#000000" stroke-width="1.5" stroke-linecap="butt"/>
<circle cx="445" cy="442.32" r="4.2" fill="url(#gk)"/>
<circle cx="450.32" cy="421.38" r="4.2" fill="url(#gk)"/>
<circle cx="455.64" cy="409.95" r="4.2" fill="url(#gk)"/>
<circle cx="503.55" cy="370.38" r="4.2" fill="url(#gk)"/>
<circle cx="551.45" cy="347.1" r="4.2" fill="url(#gk)"/>
<circle cx="657.9" cy="338.85" r="4.2" fill="url(#gk)"/>
<line x1="458.31" y1="435.19" x2="500.88" y2="358.47" stroke="#ff0000" stroke-width="1.5" stroke-linecap="butt"/>
<line x1="508.13" y1="350.63" x2="546.87" y2="324.96" stroke="#ff0000" stroke-width="1.5" stroke-linecap="butt"/>
<line x1="556.88" y1="321.06" x2="652.47" y2="305.86" stroke="#ff0000" stroke-width="1.5" stroke-linecap="butt"/>
<circle cx="445" cy="451" r="4.2" fill="url(#gr)"/>
<circle cx="450.32" cy="445.71" r="4.2" fill="url(#gr)"/>
<circle cx="455.64" cy="440" r="4.2" fill="url(#gr)"/>
<circle cx="503.55" cy="353.66" r="4.2" fill="url(#gr)"/>
<circle cx="551.45" cy="321.92" r="4.2" fill="url(#gr)"/>
<circle cx="657.9" cy="305" r="4.2" fill="url(#gr)"/>
<line x1="460.11" y1="447.79" x2="499.08" y2="419.72" stroke="#0000ff" stroke-width="1.5" stroke-linecap="butt"/>
<line x1="508.26" y1="413.68" x2="546.74" y2="390.56" stroke="#0000ff" stroke-width="1.5" stroke-linecap="butt"/>
<line x1="556.45" y1="385.44" x2="652.9" y2="341.35" stroke="#0000ff" stroke-width="1.5" stroke-linecap="butt"/>
<circle cx="445" cy="451" r="4.2" fill="url(#gb)"/>
<circle cx="450.32" cy="451" r="4.2" fill="url(#gb)"/>
<circle cx="455.64" cy="451" r="4.2" fill="url(#gb)"/>
<circle cx="503.55" cy="416.51" r="4.2" fill="url(#gb)"/>
<circle cx="551.45" cy="387.73" r="4.2" fill="url(#gb)"/>
<circle cx="657.9" cy="339.06" r="4.2" fill="url(#gb)"/>
<line x1="461.11" y1="450.35" x2="498.09" y2="445.94" stroke="#ff8000" stroke-width="1.5" stroke-linecap="butt"/>
<line x1="509.02" y1="444.71" x2="545.98" y2="440.79" stroke="#ff8000" stroke-width="1.5" stroke-linecap="butt"/>
<line x1="556.69" y1="438.53" x2="652.66" y2="407.82" stroke="#ff8000" stroke-width="1.5" stroke-linecap="butt"/>
<circle cx="445" cy="451" r="4.2" fill="url(#go)"/>
<circle cx="450.32" cy="451" r="4.2" fill="url(#go)"/>
<circle cx="455.64" cy="451" r="4.2" fill="url(#go)"/>
<circle cx="503.55" cy="445.29" r="4.2" fill="url(#go)"/>
<circle cx="551.45" cy="440.21" r="4.2" fill="url(#go)"/>
<circle cx="657.9" cy="406.14" r="4.2" fill="url(#go)"/>
<line x1="461.14" y1="451" x2="498.05" y2="451" stroke="#8000ff" stroke-width="1.5" stroke-linecap="butt"/>
<line x1="509.05" y1="451" x2="545.95" y2="451" stroke="#8000ff" stroke-width="1.5" stroke-linecap="butt"/>
<line x1="556.56" y1="448.96" x2="652.79" y2="410.51" stroke="#8000ff" stroke-width="1.5" stroke-linecap="butt"/>
<circle cx="445" cy="451" r="4.2" fill="url(#gp)"/>
<circle cx="450.32" cy="451" r="4.2" fill="url(#gp)"/>
<circle cx="455.64" cy="451" r="4.2" fill="url(#gp)"/>
<circle cx="503.55" cy="451" r="4.2" fill="url(#gp)"/>
<circle cx="551.45" cy="451" r="4.2" fill="url(#gp)"/>
<circle cx="657.9" cy="408.47" r="4.2" fill="url(#gp)"/>
<line x1="424.9" y1="282" x2="437" y2="282" stroke="#000000" stroke-width="1.25" stroke-linecap="butt"/>
<line x1="448" y1="282" x2="460.1" y2="282" stroke="#000000" stroke-width="1.25" stroke-linecap="butt"/>
<circle cx="442.5" cy="282" r="4.2" fill="url(#gk)"/>
<text x="464.8" y="287.4" font-size="15.7" text-anchor="start" fill="#000" font-weight="normal" transform="matrix(1 0 0 1.07 0 -20.12)">n = 1</text>
<line x1="518.2" y1="282" x2="530.3" y2="282" stroke="#ff0000" stroke-width="1.25" stroke-linecap="butt"/>
<line x1="541.3" y1="282" x2="553.4" y2="282" stroke="#ff0000" stroke-width="1.25" stroke-linecap="butt"/>
<circle cx="535.8" cy="282" r="4.2" fill="url(#gr)"/>
<text x="558.1" y="287.4" font-size="15.7" text-anchor="start" fill="#000" font-weight="normal" transform="matrix(1 0 0 1.07 0 -20.12)">n = 5</text>
<line x1="424.9" y1="301.7" x2="437" y2="301.7" stroke="#0000ff" stroke-width="1.25" stroke-linecap="butt"/>
<line x1="448" y1="301.7" x2="460.1" y2="301.7" stroke="#0000ff" stroke-width="1.25" stroke-linecap="butt"/>
<circle cx="442.5" cy="301.7" r="4.2" fill="url(#gb)"/>
<text x="464.8" y="307.1" font-size="15.7" text-anchor="start" fill="#000" font-weight="normal" transform="matrix(1 0 0 1.07 0 -21.5)">n = 10</text>
<line x1="518.2" y1="301.7" x2="530.3" y2="301.7" stroke="#ff8000" stroke-width="1.25" stroke-linecap="butt"/>
<line x1="541.3" y1="301.7" x2="553.4" y2="301.7" stroke="#ff8000" stroke-width="1.25" stroke-linecap="butt"/>
<circle cx="535.8" cy="301.7" r="4.2" fill="url(#go)"/>
<text x="558.1" y="307.1" font-size="15.7" text-anchor="start" fill="#000" font-weight="normal" transform="matrix(1 0 0 1.07 0 -21.5)">n = 15</text>
<line x1="424.9" y1="321.4" x2="437" y2="321.4" stroke="#8000ff" stroke-width="1.25" stroke-linecap="butt"/>
<line x1="448" y1="321.4" x2="460.1" y2="321.4" stroke="#8000ff" stroke-width="1.25" stroke-linecap="butt"/>
<circle cx="442.5" cy="321.4" r="4.2" fill="url(#gp)"/>
<text x="464.8" y="326.8" font-size="15.7" text-anchor="start" fill="#000" font-weight="normal" transform="matrix(1 0 0 1.07 0 -22.88)">n = 20</text></svg></body></html>
